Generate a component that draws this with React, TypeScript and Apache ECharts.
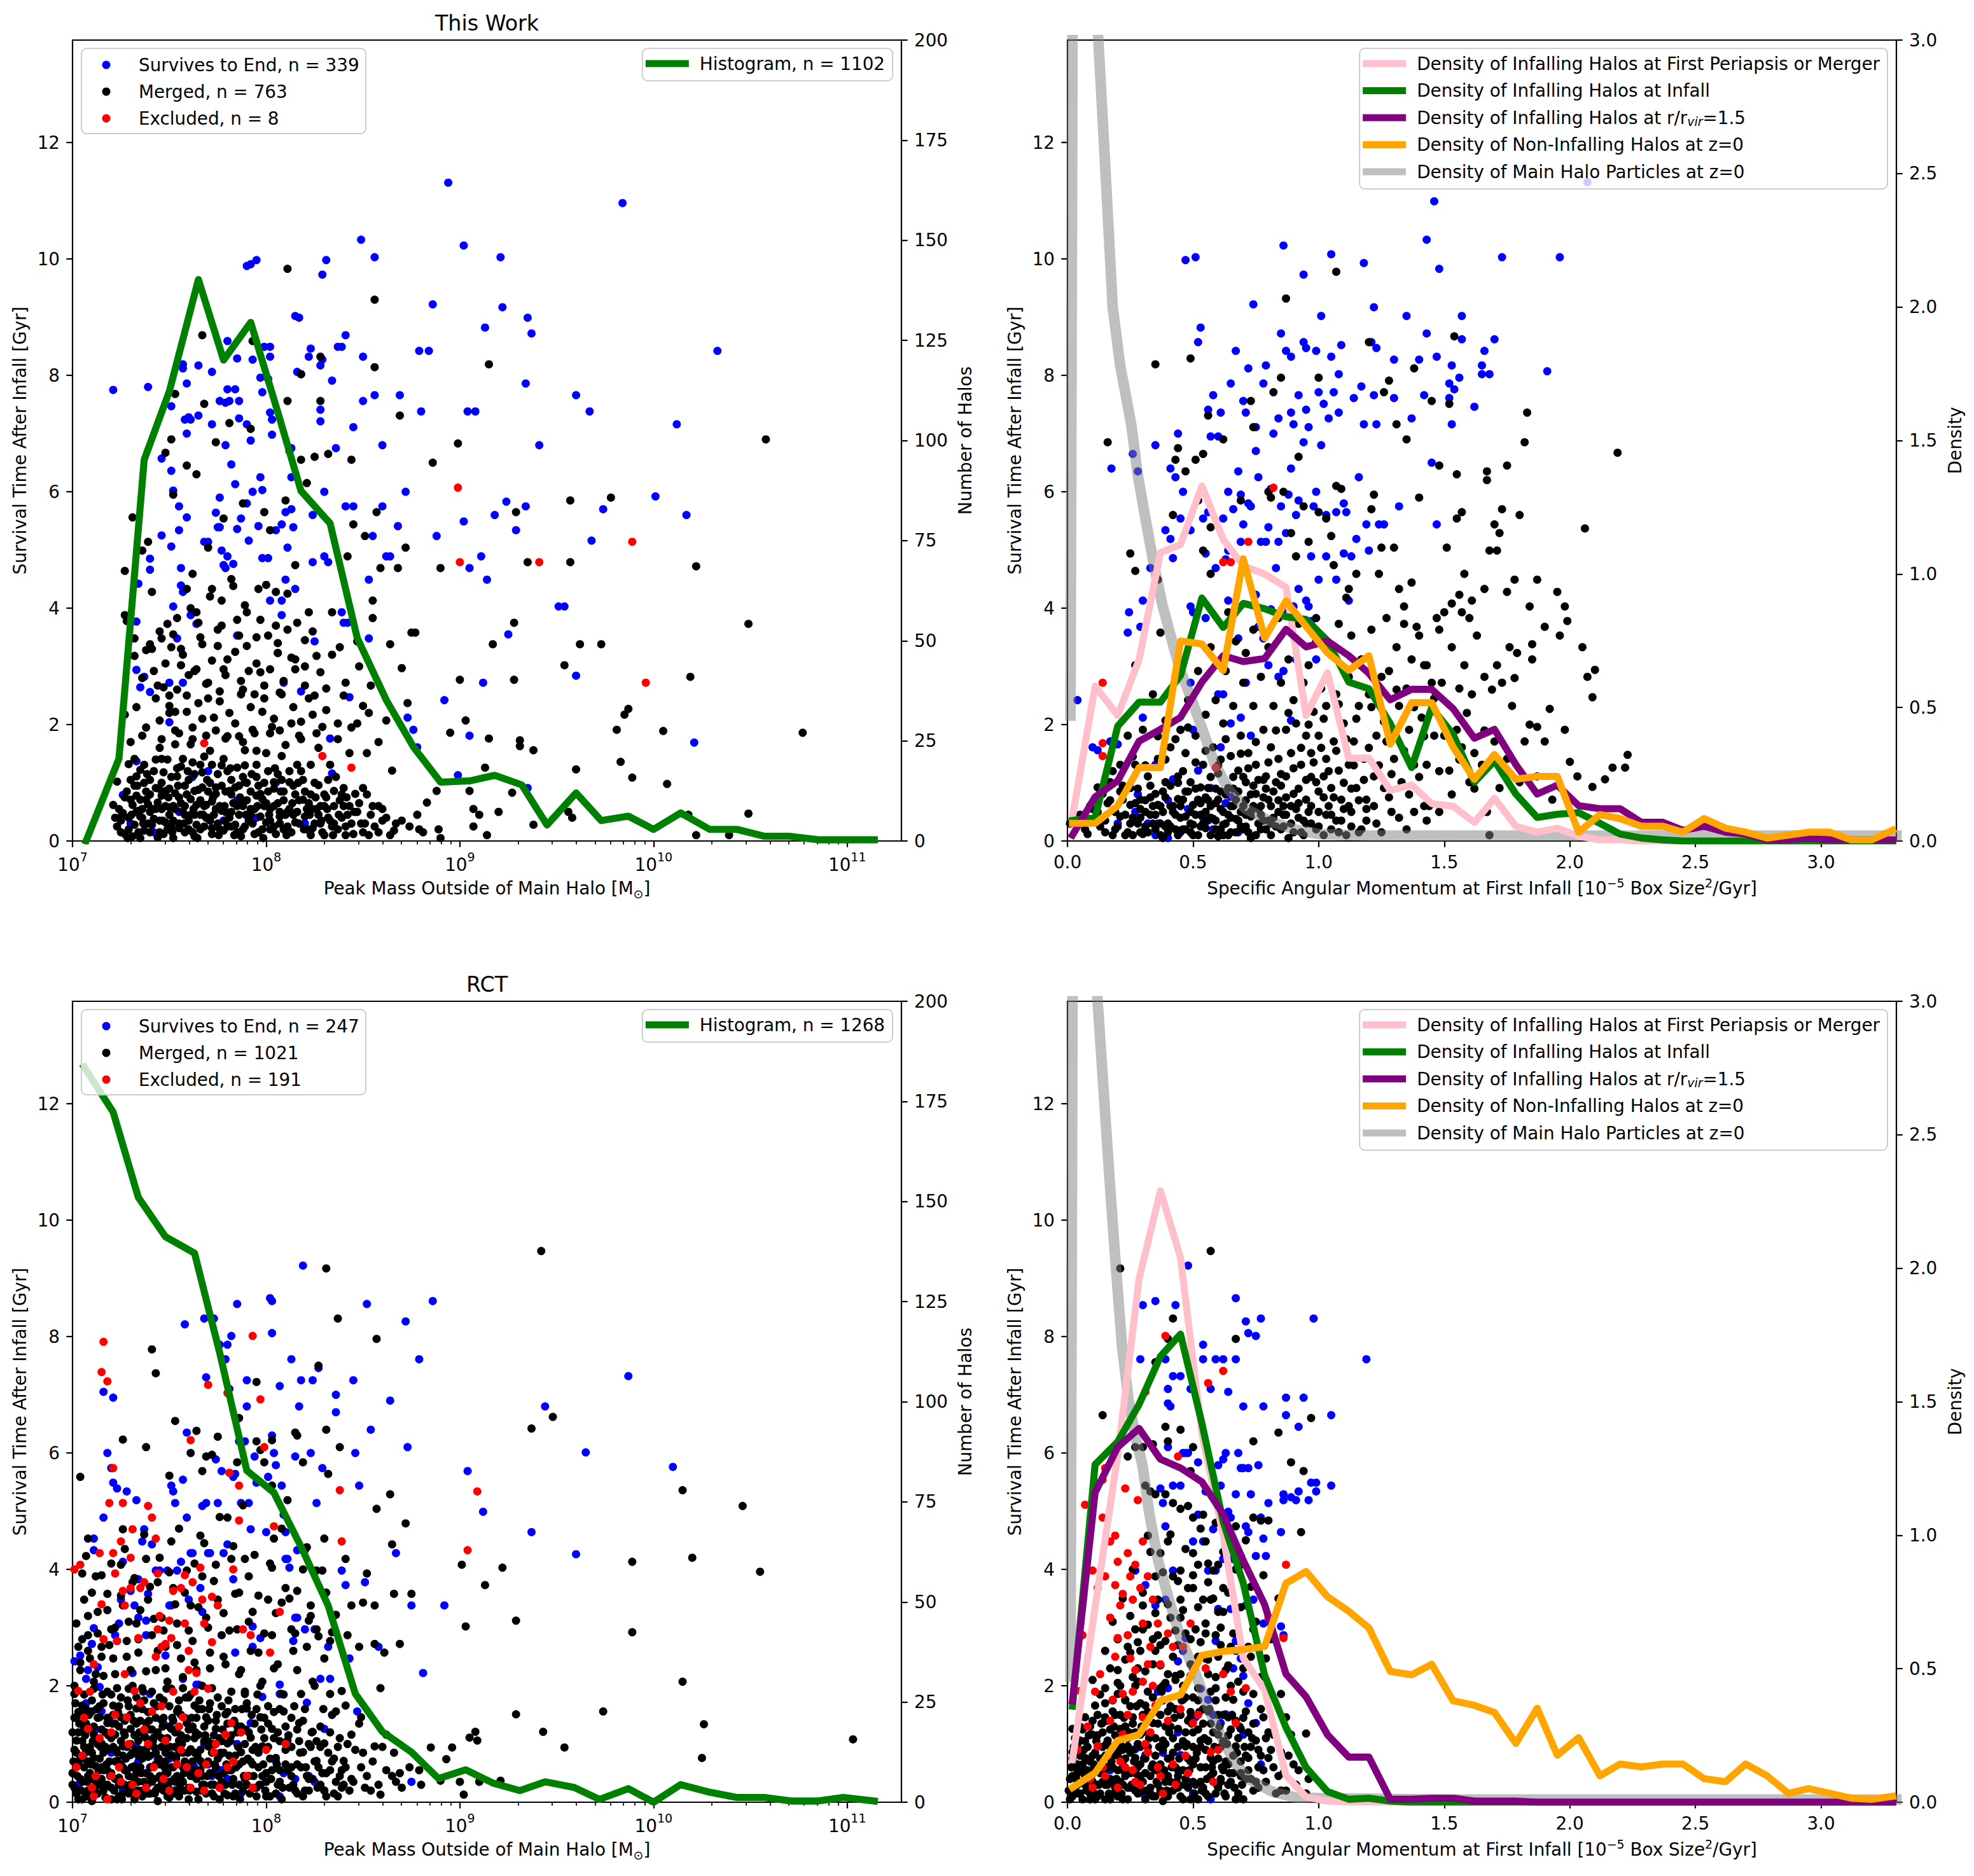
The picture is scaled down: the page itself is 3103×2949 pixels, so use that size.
import React, { useEffect, useRef } from "react";
import * as echarts from "echarts";

const FONT = "DejaVu Sans";
const FS = 27.8;
const W = 3103;
const H = 2949;
const DOT = 13;

// ---------- tick values ----------
const LOG_MAX = 11.28;
const LOG_TICKS = [7, 8, 9, 10, 11];
const LOG_MINOR = [7, 8, 9, 10].flatMap((n) => [2, 3, 4, 5, 6, 7, 8, 9].map((k) => n + Math.log10(k)));
const SURV_MAX = 13.76;
const SURV_TICKS = [0, 2, 4, 6, 8, 10, 12];
const COUNT_TICKS = [0, 25, 50, 75, 100, 125, 150, 175, 200];
const J_MAX = 3.3;
const J_TICKS = [0, 0.5, 1, 1.5, 2, 2.5, 3];
const DENS_TICKS = [0, 0.5, 1, 1.5, 2, 2.5, 3];

// ---------- histogram of peak mass (x = log10 M, y = number of halos) ----------
const TL_HIST = [[7.07,0],[7.24,20.6],[7.37,95.2],[7.5,112.3],[7.65,140.2],[7.78,120.1],[7.92,129.5],[8.05,108.7],[8.18,87.4],[8.33,79.3],[8.47,50.7],[8.62,35.2],[8.76,23.5],[8.9,14.7],[9.05,15],[9.18,16.4],[9.32,14],[9.45,4],[9.6,12],[9.73,5.1],[9.87,6.2],[10,2.9],[10.14,7],[10.29,2.9],[10.43,2.9],[10.57,1.2],[10.7,1.2],[10.85,0.3],[11,0.3],[11.14,0.3]];
const BL_HIST = [[7.06,183.6],[7.21,172.3],[7.34,151],[7.48,141.2],[7.63,137.1],[7.76,112.2],[7.9,82.8],[8.04,77.3],[8.18,63.8],[8.32,49.1],[8.46,27.1],[8.6,17.6],[8.75,12.5],[8.89,5.9],[9.03,8.1],[9.17,4.8],[9.31,2.9],[9.44,5.1],[9.59,3.7],[9.72,0.7],[9.87,3.4],[10,0],[10.14,4.4],[10.29,2.5],[10.43,1.2],[10.57,1.2],[10.71,0.3],[10.85,0.3],[10.98,1.2],[11.14,0.3]];

// ---------- density curves (x = specific angular momentum bins) ----------
const J_BINS = [0.02,0.11,0.2,0.285,0.37,0.45,0.535,0.62,0.7,0.785,0.87,0.95,1.035,1.12,1.2,1.285,1.37,1.45,1.535,1.62,1.7,1.785,1.87,1.95,2.035,2.12,2.2,2.285,2.37,2.45,2.535,2.62,2.7,2.785,2.87,2.95,3.035,3.12,3.2,3.285];
const TR_PINK = [0.09,0.58,0.47,0.68,1.08,1.11,1.33,1.13,1.03,1.0,0.95,0.47,0.63,0.31,0.31,0.19,0.21,0.14,0.13,0.07,0.16,0.055,0.033,0.048,0.018,0.004,0.004,0,0,0,0,0,0,0,0,0,0,0,0,0];
const TR_GREEN = [0.077,0.088,0.43,0.52,0.52,0.62,0.91,0.8,0.89,0.87,0.84,0.83,0.75,0.595,0.57,0.44,0.275,0.5,0.4,0.22,0.3,0.176,0.088,0.1,0.106,0.066,0.026,0.011,0.004,0,0,0,0,0,0,0,0,0,0,0];
const TR_PURPLE = [0.022,0.165,0.225,0.374,0.418,0.463,0.595,0.694,0.672,0.683,0.793,0.727,0.749,0.694,0.628,0.529,0.568,0.568,0.496,0.385,0.418,0.286,0.176,0.209,0.132,0.121,0.121,0.07,0.07,0.04,0.055,0.033,0.026,0.004,0.004,0.011,0.004,0.004,0.004,0.004];
const TR_ORANGE = [0.066,0.066,0.132,0.275,0.275,0.749,0.738,0.639,1.057,0.76,0.899,0.804,0.705,0.639,0.694,0.363,0.518,0.518,0.352,0.231,0.324,0.231,0.242,0.242,0.033,0.099,0.084,0.055,0.055,0.033,0.084,0.048,0.033,0.011,0.022,0.033,0.033,0.004,0.004,0.04];
const TR_GREY = [[0.012,0.47],[0.025,4.6],[0.06,4.2],[0.1,3.4],[0.12,3.05],[0.145,2.62],[0.18,2.0],[0.21,1.78],[0.254,1.56],[0.28,1.37],[0.31,1.21],[0.344,1.035],[0.379,0.88],[0.419,0.74],[0.449,0.64],[0.494,0.53],[0.544,0.4],[0.586,0.29],[0.643,0.19],[0.71,0.12],[0.8,0.077],[0.9,0.044],[1.0,0.026],[1.2,0.02],[1.6,0.02],[2.0,0.02],[2.5,0.02],[3.0,0.02],[3.3,0.02]];
const BR_PINK = [0.16,0.73,1.3,1.96,2.29,2.04,1.38,1.0,0.54,0.42,0.1,0.02,0.004,0,0,0,0,0,0,0,0,0,0,0,0,0,0,0,0,0,0,0,0,0,0,0,0,0,0,0];
const BR_GREEN = [0.36,1.265,1.35,1.49,1.67,1.753,1.42,1.05,0.82,0.475,0.28,0.13,0.04,0.011,0.015,0.004,0,0,0,0,0,0,0,0,0,0,0,0,0,0,0,0,0,0,0,0,0,0,0,0];
const BR_PURPLE = [0.38,1.16,1.33,1.40,1.285,1.252,1.2,1.078,0.905,0.74,0.48,0.395,0.253,0.169,0.169,0.011,0.011,0.015,0.015,0.004,0.004,0.004,0,0,0,0,0,0,0,0,0,0,0,0,0,0,0,0,0,0];
const BR_ORANGE = [0.055,0.11,0.231,0.253,0.38,0.402,0.55,0.565,0.572,0.583,0.82,0.864,0.77,0.715,0.653,0.49,0.477,0.517,0.38,0.363,0.336,0.22,0.352,0.176,0.242,0.099,0.143,0.132,0.143,0.143,0.088,0.077,0.143,0.099,0.033,0.051,0.033,0.015,0.011,0.022];
const BR_GREY = [[0.012,0.47],[0.025,4.6],[0.07,4.0],[0.12,3.0],[0.167,2.34],[0.19,2.04],[0.217,1.71],[0.244,1.5],[0.271,1.37],[0.299,1.26],[0.326,1.08],[0.362,0.9],[0.407,0.75],[0.452,0.61],[0.507,0.49],[0.561,0.35],[0.615,0.24],[0.669,0.145],[0.724,0.085],[0.814,0.04],[0.905,0.018],[1.0,0.015],[1.5,0.01],[2.0,0.01],[2.5,0.01],[3.3,0.01]];

// ---------- top-left scatter (x = log10 peak mass, y = survival time) ----------
const TL_BLUE = [[7.21,7.75],[7.39,7.8],[7.46,6.57],[7.51,7.47],[7.51,6.36],[7.46,5.25],[7.4,4.85],[7.4,4.66],[7.34,4.42],[7.35,2.64],[7.33,2.94],[7.33,3.77],[7.37,2.82],[7.4,2.56],[7.33,1.37],[7.26,0.79],[7.57,8.19],[7.6,7.28],[7.58,7.24],[7.59,7.0],[7.61,7.24],[7.57,8.12],[7.59,7.86],[7.55,5.75],[7.59,5.56],[7.52,6.02],[7.51,5.06],[7.55,5.34],[7.54,3.48],[7.52,4.03],[7.56,4.39],[7.56,4.69],[7.57,4.28],[7.5,2.72],[7.57,2.72],[7.5,2.04],[7.61,3.88],[7.64,3.73],[7.65,8.17],[7.65,7.31],[7.68,5.14],[7.7,5.14],[7.72,7.16],[7.72,8.06],[7.74,5.64],[7.75,5.39],[7.76,5.9],[7.76,5.39],[7.77,4.99],[7.78,4.74],[7.79,4.69],[7.8,4.89],[7.8,8.59],[7.8,7.76],[7.79,7.53],[7.81,7.56],[7.76,7.56],[7.84,7.76],[7.85,8.29],[7.86,7.56],[7.86,7.26],[7.79,6.8],[7.82,6.47],[7.84,6.13],[7.87,5.54],[7.85,5.36],[7.83,4.76],[7.85,3.53],[7.9,7.16],[7.9,9.88],[7.92,9.91],[7.95,9.98],[7.93,8.27],[7.92,6.88],[7.9,5.8],[7.93,6.0],[7.97,6.25],[7.98,6.03],[7.91,5.16],[7.96,5.41],[7.98,4.86],[8.01,4.86],[7.99,8.49],[8.02,8.49],[8.01,7.94],[7.97,7.96],[8.02,8.32],[7.98,7.71],[8.02,7.36],[8.03,6.98],[8.03,7.24],[8.02,4.13],[8.05,5.34],[8.08,5.44],[8.06,3.23],[8.1,4.49],[8.1,5.65],[8.12,6.7],[8.13,6.25],[8.08,4.13],[8.08,3.88],[8.09,2.72],[8.13,6.75],[8.15,4.33],[8.14,5.39],[8.13,5.7],[8.11,5.04],[8.16,8.06],[8.15,9.02],[8.17,8.99],[8.18,8.02],[8.18,2.57],[8.23,8.46],[8.22,8.32],[8.24,5.6],[8.24,4.79],[8.25,3.43],[8.28,7.21],[8.28,8.17],[8.28,7.41],[8.29,8.27],[8.29,9.73],[8.31,9.98],[8.3,6.0],[8.3,4.89],[8.32,4.79],[8.33,1.76],[8.34,7.91],[8.34,1.16],[8.36,6.75],[8.37,8.49],[8.39,8.49],[8.41,8.69],[8.39,3.93],[8.4,3.75],[8.42,3.75],[8.41,5.75],[8.45,5.75],[8.45,7.11],[8.43,2.47],[8.5,8.32],[8.5,7.56],[8.53,4.49],[8.53,3.48],[8.55,5.24],[8.56,7.66],[8.56,10.03],[8.49,10.33],[8.6,6.8],[8.6,5.75],[8.62,4.89],[8.64,4.89],[8.69,7.66],[8.68,5.41],[8.72,6.0],[8.73,2.12],[8.76,1.91],[8.78,1.61],[8.79,8.42],[8.8,7.38],[8.84,8.42],[8.86,9.22],[8.88,5.24],[8.92,2.42],[8.94,11.31],[8.99,1.13],[9.02,10.23],[9.02,5.49],[9.04,7.38],[9.05,4.69],[9.05,1.81],[9.08,7.38],[9.11,4.89],[9.13,8.82],[9.12,2.72],[9.14,4.49],[9.18,5.6],[9.21,10.03],[9.22,9.17],[9.24,5.83],[9.25,3.55],[9.29,5.34],[9.34,7.86],[9.34,5.75],[9.35,8.99],[9.37,8.72],[9.35,0.91],[9.41,6.8],[9.51,4.03],[9.54,4.03],[9.6,7.66],[9.6,2.84],[9.67,7.38],[9.68,5.16],[9.74,5.7],[9.84,10.96],[10.01,5.92],[10.12,7.16],[10.17,5.6],[10.21,1.69],[10.33,8.42],[7.3,0.3],[7.42,0.15],[7.55,0.5],[7.7,1.2],[7.85,0.7],[7.95,0.4],[8.05,1.0],[8.2,0.3],[7.62,1.1],[7.78,0.35]];
const TL_BLACK = [[7.22,0.4],[7.23,0.25],[7.25,0.35],[7.27,4.64],[7.27,3.88],[7.28,3.78],[7.27,2.17],[7.29,0.2],[7.3,0.71],[7.31,5.56],[7.32,3.48],[7.32,3.18],[7.32,1.41],[7.33,1.11],[7.33,0.5],[7.34,0.15],[7.35,0.71],[7.36,4.99],[7.36,1.81],[7.36,0.4],[7.37,1.31],[7.38,3.28],[7.38,0.71],[7.39,5.14],[7.4,3.38],[7.4,0.5],[7.4,0.15],[7.41,4.28],[7.42,2.92],[7.43,0.91],[7.44,2.67],[7.45,0.35],[7.45,2.07],[7.46,3.48],[7.46,1.41],[7.46,0.55],[7.47,2.64],[7.48,6.67],[7.48,0.86],[7.49,0.2],[7.49,3.73],[7.5,2.32],[7.5,0.45],[7.51,6.9],[7.51,3.33],[7.52,5.95],[7.52,0.6],[7.53,7.68],[7.53,1.66],[7.53,2.22],[7.54,3.83],[7.54,1.11],[7.55,0.3],[7.56,3.02],[7.57,1.41],[7.58,0.6],[7.59,6.45],[7.59,4.33],[7.59,2.22],[7.6,0.2],[7.61,1.66],[7.62,4.59],[7.63,2.92],[7.63,0.86],[7.63,0.45],[7.64,6.3],[7.64,3.93],[7.65,2.37],[7.66,1.31],[7.66,0.2],[7.67,8.69],[7.67,3.38],[7.68,7.51],[7.68,0.6],[7.69,1.81],[7.7,5.04],[7.7,2.72],[7.71,0.35],[7.72,4.33],[7.72,1.31],[7.73,2.12],[7.74,0.81],[7.74,6.85],[7.75,3.63],[7.76,0.2],[7.76,2.57],[7.77,4.13],[7.78,1.41],[7.78,5.54],[7.79,0.5],[7.79,1.76],[7.8,3.12],[7.81,0.86],[7.81,7.18],[7.82,0.25],[7.83,4.38],[7.84,2.02],[7.85,1.26],[7.85,0.6],[7.86,3.53],[7.87,2.52],[7.88,5.8],[7.88,0.2],[7.89,1.56],[7.89,1.01],[7.9,3.93],[7.91,2.92],[7.92,7.08],[7.92,0.45],[7.93,1.91],[7.93,8.59],[7.94,2.52],[7.95,1.31],[7.96,4.33],[7.97,0.81],[7.98,0.2],[7.98,2.22],[7.99,5.65],[7.99,2.67],[8.0,1.51],[8.01,3.53],[8.02,0.35],[8.02,5.34],[8.03,1.96],[8.04,1.01],[8.05,4.28],[8.06,3.23],[8.07,0.5],[8.08,1.46],[8.08,2.52],[8.09,0.2],[8.1,5.85],[8.11,7.56],[8.11,9.83],[8.11,3.63],[8.12,1.01],[8.13,2.02],[8.14,0.45],[8.15,3.12],[8.15,4.74],[8.16,1.31],[8.17,1.81],[8.18,8.02],[8.18,6.55],[8.19,0.71],[8.2,2.67],[8.21,6.15],[8.21,0.2],[8.22,3.93],[8.23,1.31],[8.24,2.17],[8.24,0.55],[8.25,6.6],[8.26,3.18],[8.27,0.96],[8.28,7.56],[8.28,0.3],[8.28,8.32],[8.29,1.96],[8.3,0.6],[8.31,2.62],[8.32,6.65],[8.33,1.31],[8.34,0.25],[8.34,3.93],[8.35,0.86],[8.37,2.02],[8.38,3.33],[8.39,0.4],[8.4,0.91],[8.41,2.72],[8.41,0.1],[8.42,4.89],[8.43,1.51],[8.44,6.55],[8.45,5.44],[8.46,0.81],[8.47,2.02],[8.47,3.43],[8.49,0.3],[8.5,2.32],[8.5,0.91],[8.51,5.24],[8.52,1.51],[8.53,0.1],[8.54,2.67],[8.55,3.83],[8.55,4.13],[8.56,8.14],[8.56,9.3],[8.57,5.65],[8.58,0.6],[8.59,4.69],[8.6,0.35],[8.62,2.07],[8.64,3.38],[8.64,0.1],[8.65,1.21],[8.67,0.3],[8.68,4.69],[8.69,7.31],[8.7,2.97],[8.72,5.04],[8.73,2.37],[8.74,0.25],[8.75,3.58],[8.77,3.58],[8.78,0.45],[8.79,0.2],[8.81,0.15],[8.83,0.66],[8.86,6.5],[8.88,0.86],[8.89,0.2],[8.9,4.69],[8.9,0.05],[8.95,1.86],[8.99,6.83],[9.0,2.77],[9.03,2.07],[9.05,0.86],[9.07,0.25],[9.07,0.55],[9.1,0.45],[9.13,1.26],[9.14,0.1],[9.15,8.19],[9.15,1.76],[9.17,3.38],[9.2,0.5],[9.27,0.83],[9.28,3.75],[9.28,2.77],[9.29,5.65],[9.31,1.73],[9.31,1.63],[9.35,4.79],[9.38,1.56],[9.38,0.28],[9.54,3.02],[9.56,0.5],[9.57,5.85],[9.57,4.79],[9.58,0.4],[9.6,1.23],[9.62,3.38],[9.73,3.38],[9.78,5.9],[9.81,1.91],[9.83,1.36],[9.85,2.17],[9.87,2.27],[9.89,1.09],[10.22,4.72],[10.05,1.89],[10.07,0.98],[10.18,0.45],[10.19,2.82],[10.22,0.1],[10.39,0.1],[10.49,0.47],[10.49,3.73],[10.58,6.9],[10.77,1.86]];
const TL_BLACK_DENSE = [[7.24,0.55],[7.27,0.12],[7.31,0.62],[7.35,0.42],[7.38,0.85],[7.41,0.28],[7.44,0.66],[7.47,0.12],[7.5,0.9],[7.52,0.35],[7.55,0.75],[7.58,0.45],[7.6,1.05],[7.62,0.15],[7.64,0.62],[7.67,0.92],[7.7,0.4],[7.72,0.68],[7.75,1.15],[7.77,0.52],[7.8,0.25],[7.82,0.8],[7.86,0.45],[7.88,1.1],[7.9,0.7],[7.93,0.3],[7.96,0.95],[7.99,0.6],[8.01,0.85],[8.04,0.25],[8.06,0.65],[8.1,0.45],[8.12,1.2],[8.16,0.5],[8.2,0.85],[8.23,0.1],[8.26,0.55],[8.3,0.8],[8.33,0.35],[8.36,1.1],[8.4,0.6],[8.44,0.3],[8.47,0.5],[8.52,0.8],[8.56,0.25],[8.6,0.55],[7.45,1.6],[7.53,1.9],[7.62,1.75],[7.71,1.55],[7.8,1.8],[7.88,1.7],[7.95,1.55],[8.02,1.85],[8.1,1.65],[8.18,1.75],[8.27,1.6],[7.5,2.5],[7.6,2.85],[7.7,2.45],[7.78,2.95],[7.88,2.6],[7.97,2.9],[8.07,2.55],[8.15,2.95],[8.25,2.5],[7.45,3.6],[7.56,3.3],[7.65,3.75],[7.75,3.35],[7.85,3.8],[7.95,3.5],[8.05,3.7],[8.2,3.45],[7.21,0.62],[7.23,1.02],[7.26,0.48],[7.28,0.85],[7.29,1.32],[7.31,0.08],[7.32,0.95],[7.34,0.52],[7.35,1.22],[7.37,0.18],[7.39,0.63],[7.4,1.05],[7.42,0.38],[7.43,1.4],[7.44,0.06],[7.46,0.78],[7.47,1.18],[7.48,0.32],[7.5,0.58],[7.51,1.1],[7.52,0.05],[7.53,0.82],[7.55,0.22],[7.56,1.28],[7.57,0.5],[7.58,0.95],[7.6,0.35],[7.61,0.72],[7.62,1.35],[7.63,0.08],[7.65,0.88],[7.66,0.45],[7.67,1.18],[7.68,0.25],[7.69,0.62],[7.71,1.0],[7.72,0.12],[7.73,0.45],[7.74,0.92],[7.76,0.6],[7.77,1.3],[7.78,0.18],[7.79,0.85],[7.81,0.4],[7.82,1.05],[7.83,0.65],[7.84,0.28],[7.86,0.95],[7.87,0.08],[7.88,0.6],[7.89,1.3],[7.91,0.35],[7.92,0.85],[7.94,0.55],[7.95,1.1],[7.96,0.15],[7.98,0.72],[8.0,0.32],[8.01,1.2],[8.02,0.55],[8.04,0.9],[8.05,0.12],[8.07,0.42],[8.08,1.05],[8.09,0.7],[8.11,0.25],[8.12,0.55],[8.14,0.95],[8.15,0.32],[8.17,0.7],[8.18,1.2],[8.2,0.42],[8.22,0.65],[8.24,0.22],[8.25,1.0],[8.27,0.45],[8.29,0.15],[8.31,0.75],[8.32,0.4],[8.35,0.6],[8.37,0.2],[8.39,0.8],[8.42,0.45],[8.45,0.12],[8.48,0.65],[8.51,0.3],[8.54,0.45],[8.58,0.15],[8.62,0.4],[8.66,0.18],[8.7,0.35],[7.3,1.7],[7.33,2.3],[7.36,2.8],[7.38,1.95],[7.41,3.3],[7.43,2.45],[7.46,1.75],[7.48,3.05],[7.5,2.2],[7.52,3.55],[7.54,2.6],[7.55,1.85],[7.57,3.2],[7.59,2.5],[7.61,4.0],[7.62,1.95],[7.64,2.95],[7.66,3.5],[7.67,2.1],[7.69,2.7],[7.71,4.2],[7.72,3.1],[7.74,1.9],[7.76,2.4],[7.77,3.7],[7.79,2.85],[7.81,2.2],[7.82,4.5],[7.84,3.25],[7.86,1.8],[7.87,2.75],[7.89,4.05],[7.9,3.35],[7.92,2.3],[7.94,1.85],[7.95,3.05],[7.97,3.8],[7.99,2.45],[8.0,4.4],[8.02,2.95],[8.04,2.1],[8.06,3.4],[8.07,1.9],[8.09,2.75],[8.11,4.25],[8.13,3.15],[8.14,2.3],[8.16,3.75],[8.18,2.05],[8.2,3.0],[8.22,2.45],[8.24,3.6],[8.26,1.85],[8.28,2.9],[8.31,2.25],[8.34,3.2],[8.37,1.75],[8.4,2.5],[8.44,1.95],[8.48,3.0],[8.53,2.2],[8.58,1.7],[7.25,0.15],[7.27,0.75],[7.29,0.4],[7.3,1.05],[7.32,0.28],[7.33,0.78],[7.35,0.05],[7.36,0.55],[7.37,1.0],[7.39,0.3],[7.4,0.8],[7.42,1.2],[7.43,0.55],[7.45,0.15],[7.46,1.0],[7.48,0.6],[7.49,1.4],[7.51,0.25],[7.53,0.55],[7.54,1.25],[7.56,0.65],[7.58,0.15],[7.59,0.8],[7.61,0.45],[7.63,1.15],[7.64,0.28],[7.66,0.7],[7.68,1.45],[7.69,0.4],[7.7,0.85],[7.72,0.22],[7.74,0.55],[7.75,0.3],[7.77,0.95],[7.79,0.35],[7.8,1.2],[7.82,0.5],[7.84,0.92],[7.85,0.15],[7.87,0.65],[7.89,0.25],[7.9,1.0],[7.92,0.55],[7.94,0.12],[7.95,0.78],[7.97,0.42],[7.99,1.0],[8.0,0.65],[8.02,0.2],[8.04,0.6],[8.06,1.15],[8.07,0.3],[8.09,0.85],[8.11,0.5],[8.13,0.15],[8.15,0.8],[8.17,0.3],[8.19,1.05],[8.21,0.55],[8.23,0.8],[8.25,0.3],[8.28,0.6],[8.3,0.1],[8.32,1.05],[8.35,0.3],[8.38,0.7],[8.41,0.25],[8.43,0.6],[7.255,0.45],[7.285,0.05],[7.305,0.45],[7.335,0.95],[7.365,0.3],[7.385,1.15],[7.415,0.55],[7.445,0.9],[7.465,0.35],[7.495,0.75],[7.515,0.15],[7.545,0.95],[7.575,0.3],[7.595,1.2],[7.625,0.55],[7.645,0.05],[7.675,0.45],[7.695,1.05],[7.725,0.75],[7.755,0.1],[7.785,0.6],[7.815,1.25],[7.835,0.1],[7.865,0.75],[7.895,0.45],[7.925,1.15],[7.955,0.6],[7.985,0.05],[8.015,0.45],[8.045,1.25],[8.075,0.85],[8.105,0.1],[8.135,0.65],[8.165,1.0],[8.195,0.2],[8.225,0.45],[8.255,0.75],[8.285,0.35],[8.315,0.55],[8.345,0.1],[8.375,0.45],[8.415,0.75],[8.455,0.5],[8.5,0.15],[8.55,0.6]];
const TL_RED = [[7.68,1.68],[8.29,1.46],[8.44,1.26],[8.99,6.07],[9.0,4.79],[9.41,4.79],[9.89,5.14],[9.96,2.72]];

// ---------- top-right scatter (x = specific angular momentum, y = survival time) ----------
const TR_BLUE = [[0.175,6.4],[0.26,6.65],[0.28,6.35],[0.24,3.58],[0.245,3.93],[0.29,3.68],[0.3,4.13],[0.33,4.69],[0.35,6.8],[0.39,5.34],[0.41,5.19],[0.42,4.86],[0.41,6.4],[0.43,6.25],[0.44,7.0],[0.45,5.54],[0.46,6.0],[0.47,9.98],[0.49,5.34],[0.49,4.03],[0.5,3.93],[0.51,10.03],[0.52,8.57],[0.53,8.82],[0.54,5.54],[0.55,4.94],[0.56,5.65],[0.56,7.41],[0.57,6.95],[0.59,4.69],[0.58,7.66],[0.6,6.95],[0.61,7.36],[0.62,5.54],[0.63,4.84],[0.64,4.99],[0.64,6.0],[0.65,7.86],[0.66,5.7],[0.67,8.42],[0.68,6.35],[0.69,5.14],[0.69,5.95],[0.7,5.44],[0.7,7.56],[0.71,7.36],[0.72,8.12],[0.72,5.8],[0.73,5.75],[0.74,9.22],[0.75,6.7],[0.75,7.11],[0.76,6.25],[0.77,5.14],[0.78,7.86],[0.79,8.17],[0.79,5.14],[0.8,5.39],[0.81,6.05],[0.82,7.0],[0.83,4.69],[0.84,7.26],[0.84,5.14],[0.85,5.75],[0.85,8.72],[0.86,10.23],[0.87,8.42],[0.87,5.29],[0.88,5.95],[0.89,8.32],[0.89,7.36],[0.89,6.4],[0.9,7.16],[0.91,5.6],[0.92,5.85],[0.92,7.66],[0.94,6.85],[0.94,9.73],[0.94,8.57],[0.95,7.41],[0.95,8.47],[0.96,7.11],[0.97,4.89],[0.98,5.75],[0.99,8.42],[0.99,6.0],[1.0,7.71],[1.0,4.49],[1.01,6.8],[1.01,9.02],[1.02,7.51],[1.03,4.89],[1.03,5.6],[1.04,7.26],[1.05,8.32],[1.05,10.08],[1.06,7.71],[1.07,4.49],[1.07,5.65],[1.08,8.02],[1.08,7.36],[1.09,8.52],[1.1,5.8],[1.1,4.94],[1.11,5.65],[1.12,4.13],[1.13,4.89],[1.14,7.61],[1.15,5.19],[1.16,6.25],[1.17,7.81],[1.18,9.93],[1.18,7.16],[1.19,5.44],[1.2,4.99],[1.21,8.57],[1.22,7.66],[1.22,9.17],[1.23,7.16],[1.23,8.47],[1.24,5.44],[1.26,5.44],[1.3,7.61],[1.3,8.27],[1.32,5.75],[1.35,9.02],[1.37,7.26],[1.4,8.27],[1.42,7.66],[1.43,10.33],[1.43,8.72],[1.45,6.5],[1.46,10.99],[1.47,8.32],[1.47,5.44],[1.48,9.83],[1.52,7.61],[1.52,7.86],[1.53,7.16],[1.53,8.17],[1.54,7.76],[1.56,7.96],[1.57,9.02],[1.57,8.62],[1.62,7.46],[1.65,8.02],[1.65,8.17],[1.66,8.42],[1.68,8.02],[1.7,8.62],[1.73,10.03],[1.91,8.07],[1.96,10.03],[2.07,11.32],[0.04,2.42],[0.1,1.61],[0.12,1.56],[0.17,1.71],[0.2,1.66],[0.3,2.12],[0.35,1.31],[0.42,1.06],[0.45,1.91],[0.49,2.72],[0.5,1.91],[0.52,1.21],[0.54,0.4],[0.56,0.35],[0.57,0.91],[0.6,2.52],[0.61,1.61],[0.62,2.52],[0.65,0.76],[0.69,2.12],[0.71,2.72],[0.73,1.81],[0.76,3.68],[0.78,3.48],[0.8,3.02],[0.81,3.98],[0.84,2.82],[0.86,2.92],[0.87,3.93],[0.9,4.03],[0.91,3.12],[0.92,4.33],[0.95,4.13],[0.96,4.03],[0.97,3.78],[0.99,3.12],[0.27,0.5],[0.35,0.1],[0.4,0.05],[0.32,0.3],[0.89,2.07],[0.65,2.02],[0.55,3.83],[0.64,4.13],[0.68,3.48],[0.75,4.23],[0.2,0.3],[0.28,0.8],[0.36,0.3],[0.4,0.7],[0.45,0.15],[0.48,0.55],[0.58,0.2],[0.63,0.65],[0.68,0.15]];
const TR_BLACK = [[0.16,6.85],[0.35,8.19],[0.25,4.94],[0.27,4.64],[0.36,4.49],[0.37,3.58],[0.42,5.6],[0.43,6.55],[0.44,6.75],[0.47,6.35],[0.49,8.29],[0.51,6.55],[0.52,5.85],[0.54,4.99],[0.54,6.65],[0.56,7.31],[0.57,5.39],[0.57,4.59],[0.62,6.9],[0.64,3.93],[0.69,5.85],[0.71,3.23],[0.73,7.56],[0.74,7.11],[0.8,6.0],[0.81,5.9],[0.82,7.71],[0.85,7.96],[0.86,6.0],[0.87,9.32],[0.89,5.29],[0.91,4.89],[0.92,6.6],[0.94,5.75],[0.96,5.14],[0.99,3.83],[1.0,7.96],[1.0,5.65],[1.03,5.54],[1.05,5.24],[1.06,4.74],[1.07,9.78],[1.07,6.1],[1.09,6.05],[1.11,4.18],[1.12,4.33],[1.15,4.59],[1.2,8.57],[1.21,5.7],[1.22,5.95],[1.24,4.59],[1.25,5.04],[1.26,7.71],[1.28,7.91],[1.3,5.04],[1.31,7.16],[1.32,4.33],[1.34,4.03],[1.35,6.9],[1.37,4.44],[1.38,8.12],[1.39,3.68],[1.4,5.9],[1.43,3.02],[1.45,7.56],[1.48,6.45],[1.48,3.63],[1.5,3.93],[1.51,5.04],[1.52,7.51],[1.53,4.08],[1.54,8.67],[1.55,6.3],[1.55,5.54],[1.56,4.23],[1.57,3.93],[1.57,5.65],[1.58,4.59],[1.6,3.83],[1.61,4.13],[1.66,4.33],[1.67,6.2],[1.67,6.35],[1.68,4.99],[1.7,5.44],[1.71,4.99],[1.72,5.29],[1.73,5.7],[1.75,4.28],[1.75,6.45],[1.76,3.33],[1.78,4.49],[1.79,3.23],[1.8,5.6],[1.82,6.85],[1.83,7.36],[1.84,4.03],[1.85,3.38],[1.87,1.96],[1.87,4.49],[1.9,3.68],[1.92,2.27],[1.95,4.28],[1.96,3.53],[1.98,1.91],[1.98,4.03],[1.99,3.78],[2.0,1.36],[2.03,1.11],[2.05,3.33],[2.06,5.37],[2.07,2.82],[2.09,0.93],[2.1,2.94],[2.09,2.47],[2.14,1.06],[2.17,1.26],[2.19,6.67],[2.22,1.26],[2.23,1.48],[0.01,0.3],[0.05,0.45],[0.07,0.2],[0.09,0.6],[0.11,0.35],[0.14,0.81],[0.15,0.15],[0.17,1.01],[0.19,0.5],[0.2,0.25],[0.21,1.31],[0.22,0.71],[0.23,0.1],[0.24,1.81],[0.25,0.91],[0.26,0.4],[0.27,3.02],[0.27,1.31],[0.29,0.71],[0.29,0.15],[0.3,1.91],[0.31,0.5],[0.32,1.11],[0.34,0.3],[0.34,2.52],[0.35,0.81],[0.36,1.41],[0.37,0.1],[0.38,0.5],[0.39,2.07],[0.39,1.01],[0.4,0.3],[0.41,1.61],[0.42,0.6],[0.43,2.82],[0.44,0.1],[0.44,1.11],[0.45,0.4],[0.45,1.91],[0.46,0.71],[0.47,0.2],[0.47,1.51],[0.48,2.42],[0.49,0.5],[0.49,1.01],[0.5,0.1],[0.51,1.81],[0.52,0.71],[0.52,2.92],[0.54,0.3],[0.54,1.31],[0.55,2.17],[0.55,0.5],[0.56,0.91],[0.57,0.1],[0.57,3.33],[0.58,1.61],[0.59,0.35],[0.59,2.42],[0.6,0.71],[0.6,1.16],[0.61,0.2],[0.62,2.02],[0.62,0.5],[0.63,2.92],[0.64,0.91],[0.64,0.1],[0.65,1.46],[0.65,0.4],[0.66,2.32],[0.67,0.71],[0.67,3.43],[0.68,1.21],[0.69,0.25],[0.69,1.81],[0.7,0.6],[0.7,2.72],[0.71,1.01],[0.72,0.15],[0.72,1.51],[0.73,0.5],[0.74,2.32],[0.74,3.63],[0.75,0.81],[0.75,1.31],[0.76,0.3],[0.77,2.82],[0.77,0.6],[0.78,1.91],[0.79,1.11],[0.79,0.2],[0.8,3.33],[0.8,0.71],[0.81,1.61],[0.82,0.4],[0.82,2.32],[0.83,1.01],[0.84,3.83],[0.84,1.41],[0.85,0.2],[0.85,2.72],[0.86,0.6],[0.87,1.91],[0.87,1.11],[0.88,3.12],[0.89,0.3],[0.89,1.51],[0.9,2.42],[0.9,0.81],[0.91,2.02],[0.92,0.4],[0.92,3.73],[0.93,1.31],[0.94,2.72],[0.94,0.1],[0.95,1.81],[0.95,0.71],[0.96,3.02],[0.97,1.51],[0.97,0.3],[0.98,2.22],[0.99,1.01],[0.99,3.43],[1.0,0.5],[1.0,1.81],[1.01,2.62],[1.02,1.11],[1.02,0.1],[1.03,1.41],[1.03,2.32],[1.04,0.6],[1.05,3.33],[1.05,0.91],[1.06,1.71],[1.07,0.35],[1.07,2.52],[1.08,1.21],[1.08,3.73],[1.09,0.71],[1.1,2.02],[1.11,0.1],[1.12,2.82],[1.12,1.31],[1.13,0.5],[1.13,3.53],[1.14,1.71],[1.15,0.91],[1.16,2.32],[1.17,0.2],[1.17,3.12],[1.18,1.41],[1.19,0.71],[1.2,2.52],[1.21,3.63],[1.22,1.11],[1.23,1.81],[1.23,0.3],[1.25,2.82],[1.26,0.91],[1.27,3.83],[1.27,1.71],[1.28,2.92],[1.29,0.5],[1.3,1.41],[1.31,3.33],[1.32,2.32],[1.33,1.01],[1.34,3.73],[1.35,0.2],[1.35,2.62],[1.36,1.91],[1.37,3.12],[1.38,1.31],[1.38,0.5],[1.4,3.53],[1.41,2.12],[1.42,0.6],[1.42,3.02],[1.43,0.35],[1.43,1.31],[1.45,2.72],[1.46,1.81],[1.47,3.83],[1.48,0.5],[1.49,2.72],[1.5,1.81],[1.52,1.21],[1.53,3.33],[1.55,1.91],[1.56,2.62],[1.57,1.61],[1.58,3.02],[1.6,1.01],[1.61,2.52],[1.62,1.51],[1.63,3.53],[1.65,1.31],[1.66,2.82],[1.67,0.5],[1.68,0.1],[1.7,1.71],[1.71,3.02],[1.72,0.91],[1.73,2.72],[1.75,1.41],[1.77,2.32],[1.8,1.01],[1.82,1.71],[1.85,3.12],[1.87,1.11],[1.9,1.71],[1.93,0.71]];
const TR_BLACK_DENSE = [[0.08,0.12],[0.1,0.55],[0.12,0.92],[0.13,0.25],[0.16,0.65],[0.18,0.1],[0.18,1.2],[0.21,0.42],[0.22,0.95],[0.24,0.15],[0.25,0.62],[0.26,1.45],[0.28,0.3],[0.28,0.9],[0.3,0.12],[0.31,0.7],[0.31,1.3],[0.33,0.45],[0.33,0.95],[0.35,0.2],[0.36,0.62],[0.36,1.8],[0.38,0.05],[0.38,0.85],[0.39,1.4],[0.41,0.25],[0.41,0.95],[0.42,0.5],[0.43,1.75],[0.44,0.72],[0.45,0.18],[0.46,1.2],[0.47,0.42],[0.48,0.85],[0.48,1.95],[0.5,0.28],[0.5,0.62],[0.51,1.35],[0.52,0.1],[0.53,0.92],[0.53,0.45],[0.55,1.55],[0.55,0.22],[0.56,0.7],[0.57,1.1],[0.58,0.38],[0.59,0.9],[0.6,0.08],[0.61,0.55],[0.61,1.4],[0.62,0.28],[0.63,0.8],[0.63,1.75],[0.65,0.15],[0.66,0.6],[0.66,1.1],[0.67,0.38],[0.68,0.85],[0.69,1.5],[0.7,0.2],[0.71,0.7],[0.72,1.25],[0.73,0.05],[0.73,0.42],[0.74,0.95],[0.75,1.7],[0.76,0.55],[0.77,0.2],[0.78,1.05],[0.78,0.75],[0.8,0.35],[0.8,1.35],[0.81,0.1],[0.82,0.85],[0.83,1.9],[0.84,0.5],[0.85,1.15],[0.86,0.25],[0.87,0.75],[0.88,2.2],[0.88,0.05],[0.9,1.25],[0.91,0.55],[0.92,0.9],[0.93,1.6],[0.94,0.35],[0.95,1.05],[0.96,2.0],[0.97,0.6],[0.98,1.35],[0.99,0.2],[1.0,0.85],[1.01,1.6],[1.02,2.1],[1.03,0.45],[1.04,1.2],[1.05,0.2],[1.06,0.75],[1.07,1.55],[1.08,2.35],[1.09,0.35],[1.1,1.0],[1.11,1.75],[1.12,0.6],[1.13,0.25],[1.14,1.3],[1.15,2.1],[1.16,0.7],[1.18,1.05],[1.19,0.35],[1.2,1.6],[1.21,2.3],[1.22,0.6],[1.24,1.3],[1.25,0.15],[1.26,2.05],[1.28,0.75],[1.29,1.15],[1.31,2.6],[1.32,0.4],[1.34,1.55],[1.36,0.8],[1.38,2.3],[1.4,1.1],[1.42,1.8],[1.44,0.6],[1.46,2.45],[1.48,1.2],[1.5,2.0],[1.53,0.8],[1.56,1.4],[1.59,2.2],[1.62,0.9],[1.66,1.9],[1.69,2.6],[1.74,1.2],[1.78,2.8],[1.84,2.0],[0.26,0.1],[0.29,0.55],[0.32,0.15],[0.34,0.6],[0.37,0.3],[0.39,0.75],[0.4,0.15],[0.43,0.45],[0.44,1.0],[0.46,0.2],[0.49,0.3],[0.51,0.9],[0.53,0.25],[0.55,0.75],[0.57,0.4],[0.59,0.65],[0.6,1.3],[0.62,0.1],[0.64,0.45],[0.66,0.9],[0.68,0.35],[0.7,1.1],[0.71,0.25],[0.74,0.6],[0.76,1.05],[0.78,0.35],[0.81,0.6],[0.83,0.25],[0.85,0.95],[0.87,0.45],[0.9,0.15],[0.92,0.65],[0.95,0.3],[0.97,1.1],[1.0,0.25],[1.02,0.75],[1.05,0.45],[1.08,0.15],[1.1,0.55],[1.13,0.9],[1.16,0.15],[1.19,0.55],[0.12,0.5],[0.15,0.35],[0.17,0.7],[0.19,0.2],[0.21,0.85],[0.23,0.45],[0.25,0.3],[0.27,0.65],[0.29,0.4],[0.31,0.25],[0.33,0.75],[0.35,0.45],[0.37,0.6],[0.39,0.25],[0.41,0.6],[0.43,0.2],[0.45,0.6],[0.47,0.85],[0.49,0.15],[0.51,0.45],[0.53,0.65],[0.55,0.35],[0.57,0.6],[0.59,0.2],[0.61,0.85],[0.63,0.3],[0.65,0.6],[0.67,0.15],[0.69,0.5],[0.71,0.45],[0.73,0.8],[0.75,0.1],[0.77,0.45],[0.79,0.9],[0.81,0.3],[0.84,0.7],[0.86,0.45],[0.89,0.6],[0.93,0.15],[0.96,0.5]];
const TR_RED = [[0.14,2.72],[0.14,1.68],[0.14,1.46],[0.62,4.79],[0.65,4.79],[0.72,5.14],[0.82,6.07],[0.59,1.26]];

// ---------- bottom-left scatter ----------
const BL_BLUE = [[7.01,2.42],[7.04,2.52],[7.07,2.12],[7.08,2.27],[7.1,2.72],[7.11,2.99],[7.11,4.53],[7.11,4.33],[7.13,2.32],[7.14,1.98],[7.15,1.56],[7.16,4.89],[7.16,7.05],[7.18,6.0],[7.2,5.74],[7.21,6.95],[7.21,5.49],[7.22,2.87],[7.23,5.39],[7.23,2.77],[7.24,3.07],[7.25,3.48],[7.26,4.13],[7.28,5.34],[7.3,3.63],[7.31,2.22],[7.32,3.38],[7.33,5.19],[7.34,3.17],[7.34,3.83],[7.36,4.48],[7.37,4.69],[7.38,2.87],[7.38,3.12],[7.39,3.58],[7.4,1.86],[7.41,4.43],[7.43,3.98],[7.45,3.98],[7.48,2.52],[7.49,3.98],[7.5,3.38],[7.51,5.44],[7.51,3.38],[7.52,5.34],[7.53,5.14],[7.54,3.98],[7.56,4.13],[7.57,2.12],[7.58,8.21],[7.59,6.35],[7.57,5.54],[7.59,4.89],[7.6,3.48],[7.61,4.28],[7.62,4.28],[7.64,2.02],[7.65,2.02],[7.66,3.68],[7.67,5.09],[7.67,3.27],[7.68,8.31],[7.69,7.3],[7.69,5.14],[7.7,4.28],[7.71,4.28],[7.72,8.31],[7.73,8.31],[7.74,5.89],[7.75,5.14],[7.76,7.86],[7.77,5.69],[7.78,4.28],[7.79,7.61],[7.8,7.86],[7.8,4.43],[7.81,7.1],[7.82,8.01],[7.83,3.83],[7.83,5.59],[7.84,5.64],[7.84,2.57],[7.85,8.56],[7.86,6.2],[7.87,5.14],[7.89,6.2],[7.9,6.8],[7.9,7.25],[7.91,5.14],[7.92,4.69],[7.93,3.02],[7.93,2.67],[7.94,5.94],[7.95,5.49],[7.97,2.82],[7.97,1.46],[7.98,1.81],[8.0,4.64],[8.01,5.59],[8.02,8.66],[8.03,8.61],[8.03,8.06],[8.03,6.3],[8.04,6.0],[8.05,5.79],[8.07,2.02],[8.07,7.15],[8.07,1.86],[8.08,5.44],[8.09,4.94],[8.1,4.64],[8.1,4.18],[8.11,4.18],[8.12,4.03],[8.13,7.61],[8.14,2.77],[8.15,5.94],[8.15,3.17],[8.16,4.33],[8.16,3.17],[8.17,6.8],[8.18,7.25],[8.19,9.22],[8.2,4.33],[8.2,2.97],[8.21,1.71],[8.23,6.0],[8.24,7.25],[8.25,2.97],[8.26,5.14],[8.27,7.46],[8.28,2.12],[8.29,5.74],[8.3,1.26],[8.32,2.67],[8.33,2.12],[8.36,6.7],[8.36,7.0],[8.39,3.98],[8.41,3.73],[8.43,2.47],[8.45,7.25],[8.46,6.0],[8.47,1.56],[8.48,5.44],[8.51,3.78],[8.52,8.56],[8.54,6.4],[8.58,2.67],[8.64,6.9],[8.67,4.28],[8.72,8.26],[8.73,6.1],[8.75,0.35],[8.75,3.38],[8.79,7.61],[8.81,2.22],[8.86,8.61],[8.92,3.38],[9.04,5.69],[9.12,4.99],[9.37,4.64],[9.44,6.8],[9.65,6.01],[9.87,7.32],[10.1,5.76],[9.6,4.26],[8.09,0.5],[8.07,0.1],[7.85,1.0],[7.77,0.55],[7.61,0.65],[7.44,0.75],[7.2,0.85],[7.25,0.65],[7.34,0.7],[7.72,0.45],[7.75,0.55],[7.54,1.26],[7.92,1.36],[7.7,0.65],[8.22,0.45],[8.25,0.35],[7.03,0.3],[7.07,1.7],[7.14,0.55],[7.19,1.45],[7.26,0.2],[7.33,0.95],[7.4,0.6],[7.47,1.35],[7.55,0.15],[7.63,0.6],[7.68,1.0],[7.8,0.4],[7.87,0.15],[7.97,0.3],[8.05,0.7],[8.15,0.4],[8.3,0.2],[7.12,1.25],[7.5,0.75]];
const BL_BLACK = [[7.41,7.78],[7.43,7.37],[7.38,6.1],[7.26,6.23],[7.26,4.69],[7.04,5.59],[7.08,4.53],[7.07,4.23],[7.05,3.93],[7.53,6.55],[7.5,5.61],[7.61,6.0],[7.64,6.38],[7.69,5.94],[7.67,5.69],[7.72,5.97],[7.75,6.28],[7.86,6.6],[7.85,5.84],[7.89,4.18],[7.95,7.22],[7.95,6.2],[7.97,6.05],[7.99,5.84],[8.03,6.22],[8.03,5.44],[8.03,4.03],[8.04,4.53],[8.08,3.43],[8.11,5.19],[8.15,6.35],[8.16,6.3],[8.16,3.63],[8.19,5.84],[8.21,4.38],[8.22,3.12],[8.23,3.38],[8.26,3.98],[8.27,7.5],[8.29,3.98],[8.3,4.53],[8.31,9.17],[8.31,6.4],[8.32,5.64],[8.33,2.77],[8.34,2.92],[8.36,3.22],[8.37,8.31],[8.38,6.1],[8.39,1.91],[8.41,4.18],[8.42,2.87],[8.44,3.38],[8.48,2.67],[8.5,3.43],[8.52,3.93],[8.56,3.38],[8.56,2.72],[8.57,7.96],[8.57,5.04],[8.59,1.96],[8.61,2.57],[8.64,5.29],[8.65,4.43],[8.66,3.58],[8.72,4.79],[8.69,2.72],[8.75,3.58],[8.85,0.94],[8.9,0.37],[8.93,0.74],[8.96,0.94],[9.0,0.35],[9.01,4.08],[9.03,3.02],[9.05,1.11],[9.08,1.21],[9.09,1.06],[9.1,0.35],[9.13,3.73],[9.21,0.37],[9.22,4.03],[9.29,3.12],[9.29,1.51],[9.37,6.42],[9.42,9.47],[9.43,1.21],[9.48,6.62],[9.54,0.94],[9.74,1.56],[9.89,4.13],[9.89,2.92],[10.15,5.36],[10.15,2.07],[10.2,4.2],[10.25,0.76],[10.26,1.34],[10.46,5.09],[10.55,3.96],[11.03,1.08],[9.02,0.13],[8.51,0.25],[8.59,0.13],[8.67,0.35],[8.65,0.45],[8.69,0.5],[8.79,0.55],[8.39,0.25],[8.44,0.4],[8.49,0.6],[7.01,1.86],[7.02,1.46],[7.02,1.06],[7.03,0.65],[7.01,0.25],[7.05,1.66],[7.06,1.26],[7.07,0.86],[7.08,0.45],[7.08,0.1],[7.1,1.56],[7.11,1.16],[7.11,0.76],[7.12,0.35],[7.14,1.46],[7.15,1.01],[7.15,0.6],[7.16,0.2],[7.18,1.36],[7.19,0.91],[7.2,0.5],[7.21,1.66],[7.22,1.16],[7.23,0.71],[7.24,0.3],[7.25,1.46],[7.26,0.96],[7.27,0.55],[7.29,0.15],[7.3,1.26],[7.3,0.81],[7.32,0.4],[7.33,1.61],[7.34,1.06],[7.35,0.6],[7.36,0.2],[7.38,1.36],[7.38,0.91],[7.4,0.45],[7.41,1.56],[7.42,1.11],[7.43,0.65],[7.44,0.25],[7.46,1.41],[7.47,0.96],[7.48,0.5],[7.49,0.1],[7.51,1.26],[7.51,0.81],[7.53,0.35],[7.54,1.56],[7.55,1.06],[7.57,0.6],[7.58,0.2],[7.59,1.36],[7.61,0.91],[7.62,0.45],[7.63,1.66],[7.65,1.16],[7.66,0.71],[7.67,0.3],[7.69,1.46],[7.7,0.96],[7.72,0.5],[7.73,0.1],[7.74,1.26],[7.76,0.81],[7.77,0.35],[7.79,1.51],[7.8,1.01],[7.82,0.55],[7.84,0.15],[7.85,1.31],[7.87,0.86],[7.89,0.4],[7.9,1.61],[7.92,1.11],[7.93,0.65],[7.95,0.25],[7.97,1.46],[7.98,0.96],[8.0,0.5],[8.02,0.1],[8.03,1.26],[8.05,0.76],[8.07,0.35],[8.09,1.56],[8.11,1.06],[8.13,0.6],[8.15,0.2],[8.17,1.36],[8.19,0.86],[8.21,0.45],[8.24,1.21],[8.26,0.71],[8.28,0.3],[8.3,1.01],[8.33,0.55],[8.35,0.15],[8.38,0.45],[8.4,0.71],[7.02,3.07],[7.03,2.67],[7.04,2.27],[7.06,3.48],[7.08,2.87],[7.09,2.47],[7.11,2.07],[7.12,3.88],[7.13,3.27],[7.15,2.67],[7.16,2.17],[7.18,3.58],[7.2,2.97],[7.21,2.47],[7.23,1.96],[7.25,4.08],[7.26,3.38],[7.28,2.77],[7.3,2.27],[7.31,3.78],[7.33,3.07],[7.34,2.57],[7.36,1.96],[7.38,4.18],[7.39,3.48],[7.41,2.87],[7.43,2.27],[7.44,3.78],[7.46,3.17],[7.48,2.67],[7.49,2.07],[7.51,4.48],[7.52,3.68],[7.54,3.07],[7.56,2.47],[7.57,1.96],[7.59,3.98],[7.61,3.38],[7.62,2.77],[7.64,2.27],[7.66,4.58],[7.67,3.88],[7.69,3.17],[7.71,2.57],[7.72,1.96],[7.74,4.08],[7.75,3.48],[7.77,2.87],[7.79,2.37],[7.8,4.89],[7.82,4.18],[7.84,3.58],[7.85,2.97],[7.87,2.27],[7.89,1.86],[7.91,3.88],[7.93,3.27],[7.96,2.57],[7.98,2.07],[8.01,3.48],[8.03,2.87],[8.06,2.37],[8.08,1.86],[8.1,3.68],[8.13,2.97],[8.16,2.27],[8.18,1.86],[8.21,2.67],[8.24,2.07],[8.26,2.97],[8.3,2.47],[8.33,1.86],[8.36,1.56],[8.41,1.66],[8.44,1.16],[8.49,1.46],[8.56,0.96],[8.62,1.16]];
const BL_BLACK_DENSE = [[7.0,0.5],[7.0,1.2],[7.01,2.0],[7.02,0.15],[7.02,0.85],[7.03,1.55],[7.04,0.4],[7.04,2.4],[7.05,1.05],[7.05,0.05],[7.06,0.6],[7.06,1.85],[7.07,1.35],[7.08,0.2],[7.08,2.6],[7.09,0.95],[7.09,0.5],[7.1,1.75],[7.1,0.02],[7.11,1.3],[7.12,0.62],[7.12,2.2],[7.13,0.15],[7.13,1.0],[7.14,1.65],[7.15,0.4],[7.15,2.5],[7.16,0.85],[7.17,1.2],[7.17,0.08],[7.18,1.9],[7.18,0.55],[7.19,2.7],[7.2,1.1],[7.2,0.25],[7.21,1.5],[7.22,0.7],[7.22,2.2],[7.23,0.05],[7.24,1.3],[7.24,0.42],[7.25,1.8],[7.26,0.8],[7.26,0.15],[7.27,1.15],[7.28,2.5],[7.28,0.55],[7.29,1.65],[7.3,0.3],[7.3,1.0],[7.31,2.0],[7.32,0.62],[7.32,0.05],[7.33,1.35],[7.34,0.35],[7.34,2.8],[7.35,0.9],[7.36,1.6],[7.36,0.1],[7.37,1.15],[7.38,0.5],[7.38,2.25],[7.39,0.78],[7.4,1.25],[7.4,0.15],[7.41,1.9],[7.42,0.4],[7.42,0.95],[7.43,1.45],[7.44,0.02],[7.44,2.6],[7.45,0.65],[7.46,1.1],[7.46,0.3],[7.47,1.75],[7.48,0.85],[7.48,2.3],[7.49,0.5],[7.5,1.3],[7.5,0.08],[7.51,1.95],[7.52,0.6],[7.53,1.2],[7.53,0.2],[7.54,2.7],[7.55,0.85],[7.56,1.5],[7.56,0.38],[7.57,2.15],[7.58,0.7],[7.59,1.1],[7.6,0.05],[7.6,1.8],[7.61,0.45],[7.62,1.3],[7.63,2.4],[7.63,0.85],[7.64,0.18],[7.65,1.6],[7.66,0.55],[7.67,2.0],[7.68,1.05],[7.68,0.3],[7.7,1.4],[7.7,0.7],[7.71,2.3],[7.72,0.15],[7.73,1.15],[7.74,0.6],[7.75,1.8],[7.76,0.25],[7.77,1.05],[7.78,2.5],[7.78,0.5],[7.8,1.35],[7.8,0.12],[7.81,0.8],[7.82,1.9],[7.83,0.4],[7.85,1.2],[7.86,0.65],[7.86,2.2],[7.88,0.2],[7.89,1.0],[7.9,1.7],[7.91,0.45],[7.92,2.6],[7.93,0.9],[7.94,1.35],[7.95,0.1],[7.96,0.6],[7.97,2.0],[7.99,1.1],[8.0,0.35],[8.01,1.65],[8.02,0.75],[8.04,2.3],[8.05,0.15],[8.06,1.2],[8.07,0.55],[8.09,1.85],[8.1,0.9],[8.12,0.25],[8.13,1.45],[8.14,2.6],[8.16,0.65],[8.17,1.05],[8.19,0.1],[8.2,1.6],[8.22,0.4],[8.23,0.95],[8.25,2.0],[8.27,0.6],[8.28,1.3],[8.3,0.2],[8.32,0.85],[8.34,1.5],[8.36,0.35],[8.38,1.1],[8.41,0.6],[8.43,0.2],[8.46,0.9],[8.48,1.35],[8.52,0.45],[8.55,0.7],[8.58,0.3],[8.62,0.55],[8.66,0.85],[8.7,0.25],[8.74,0.6],[8.8,0.3],[7.05,2.8],[7.08,3.2],[7.1,3.6],[7.13,2.9],[7.15,3.9],[7.18,3.3],[7.2,4.1],[7.22,3.0],[7.25,3.55],[7.27,4.35],[7.29,3.1],[7.32,3.85],[7.35,3.3],[7.37,4.6],[7.4,3.7],[7.42,3.15],[7.45,4.2],[7.47,2.95],[7.5,3.95],[7.53,3.4],[7.55,4.7],[7.58,3.6],[7.6,2.95],[7.63,4.1],[7.65,3.35],[7.68,4.45],[7.7,3.0],[7.73,3.8],[7.76,4.9],[7.78,3.25],[7.81,2.95],[7.83,4.4],[7.86,3.6],[7.88,5.1],[7.91,3.1],[7.94,4.25],[7.96,3.55],[7.99,2.9],[8.02,4.1],[8.05,3.25],[8.08,4.7],[8.12,3.5],[8.15,2.9],[8.19,4.0],[8.23,3.2],[8.27,2.85],[8.31,3.6],[7.0,0.3],[7.01,0.9],[7.01,1.45],[7.03,0.05],[7.03,1.2],[7.04,0.75],[7.05,1.5],[7.05,0.35],[7.06,0.95],[7.07,0.1],[7.07,1.6],[7.08,0.7],[7.09,1.25],[7.1,0.4],[7.1,0.85],[7.11,1.95],[7.12,1.05],[7.12,0.15],[7.13,1.45],[7.14,0.75],[7.14,0.3],[7.15,1.25],[7.16,0.55],[7.16,1.7],[7.17,0.95],[7.18,0.3],[7.18,1.45],[7.19,0.7],[7.2,0.05],[7.2,1.85],[7.21,0.95],[7.22,0.4],[7.22,1.35],[7.23,0.85],[7.24,1.65],[7.24,0.1],[7.25,1.05],[7.26,0.6],[7.27,1.4],[7.27,0.3],[7.28,0.95],[7.29,1.95],[7.29,0.45],[7.3,1.5],[7.31,0.85],[7.31,0.2],[7.32,1.15],[7.33,0.5],[7.33,1.8],[7.34,0.8],[7.35,0.15],[7.35,1.4],[7.36,0.75],[7.37,1.75],[7.37,0.35],[7.38,1.1],[7.39,0.15],[7.39,1.55],[7.4,0.8],[7.41,0.35],[7.41,1.25],[7.42,1.7],[7.43,0.2],[7.43,0.85],[7.44,1.2],[7.45,0.45],[7.45,1.8],[7.46,0.95],[7.47,0.2],[7.47,1.45],[7.48,0.7],[7.49,1.1],[7.5,0.35],[7.5,1.65],[7.51,0.6],[7.52,1.4],[7.52,0.15],[7.53,0.95],[7.54,0.45],[7.55,1.75],[7.55,0.1],[7.56,1.15],[7.57,0.35],[7.57,0.85],[7.58,1.45],[7.59,0.55],[7.6,1.25],[7.6,0.25],[7.61,1.85],[7.62,0.7],[7.63,1.1],[7.64,0.4],[7.64,1.45],[7.65,0.05],[7.66,0.9],[7.67,1.6],[7.67,0.45],[7.68,1.3],[7.69,0.15],[7.7,1.05],[7.71,0.5],[7.71,1.7],[7.72,0.85],[7.73,0.3],[7.74,1.4],[7.75,0.75],[7.76,1.1],[7.76,0.05],[7.77,1.65],[7.78,0.85],[7.79,0.3],[7.8,1.55],[7.81,0.55],[7.82,1.15],[7.83,0.1],[7.84,0.8],[7.84,1.6],[7.86,0.3],[7.87,1.3],[7.88,0.7],[7.89,1.9],[7.9,0.3],[7.91,1.2],[7.92,0.7],[7.94,0.25],[7.95,1.6],[7.96,0.85],[7.98,0.45],[7.99,1.45],[8.0,0.1],[8.01,0.95],[8.03,0.55],[8.04,1.55],[8.06,0.3],[8.07,1.05],[8.08,0.05],[8.1,1.3],[8.11,0.55],[8.13,0.95],[8.14,0.3],[8.16,1.25],[8.18,0.6],[8.2,0.2],[8.22,1.0],[8.24,0.4],[8.26,1.05],[8.29,0.5],[8.31,0.1],[8.34,0.7],[8.37,0.95],[8.4,0.3]];
const BL_BLACK_DENSE2 = [[7.005,0.7],[7.015,1.7],[7.025,0.45],[7.035,1.35],[7.045,0.2],[7.055,0.75],[7.065,1.15],[7.075,0.35],[7.085,1.5],[7.095,0.65],[7.105,1.05],[7.115,0.25],[7.125,1.6],[7.135,0.55],[7.145,0.95],[7.155,1.85],[7.165,0.3],[7.175,0.65],[7.185,1.15],[7.195,0.45],[7.205,1.35],[7.215,0.2],[7.225,0.9],[7.235,1.55],[7.245,0.65],[7.255,0.05],[7.265,1.2],[7.275,0.75],[7.285,1.75],[7.295,0.25],[7.305,0.6],[7.315,1.4],[7.325,0.9],[7.335,0.2],[7.345,1.2],[7.355,0.5],[7.365,1.9],[7.375,0.85],[7.385,0.3],[7.395,1.4],[7.405,0.6],[7.415,1.05],[7.425,0.15],[7.435,1.65],[7.445,0.75],[7.455,0.4],[7.465,1.3],[7.475,0.6],[7.485,1.95],[7.495,0.25],[7.505,0.95],[7.515,1.45],[7.525,0.4],[7.535,0.75],[7.545,1.6],[7.555,0.25],[7.565,1.0],[7.575,0.5],[7.585,1.8],[7.595,0.85],[7.605,0.2],[7.615,1.45],[7.625,0.55],[7.635,1.2],[7.645,0.8],[7.655,1.75],[7.665,0.2],[7.675,0.65],[7.685,1.15],[7.695,0.45],[7.705,1.6],[7.715,0.3],[7.725,1.0],[7.735,0.65],[7.745,1.5],[7.755,0.45],[7.765,0.85],[7.775,1.25],[7.785,0.15],[7.795,0.65],[7.805,1.75],[7.815,1.05],[7.825,0.3],[7.835,1.4],[7.845,0.6],[7.855,0.95],[7.865,0.05],[7.875,1.6],[7.885,0.45],[7.895,1.25],[7.905,0.75],[7.915,0.15],[7.925,1.5],[7.935,0.45],[7.945,0.95],[7.955,1.85],[7.965,0.3],[7.975,1.25],[7.985,0.65],[7.995,0.2],[8.01,1.35],[8.025,0.4],[8.04,1.1],[8.055,0.65],[8.07,1.6],[8.085,0.25],[8.1,0.65],[8.115,1.15],[8.13,0.45],[8.145,1.65],[8.16,0.15],[8.175,0.85],[8.19,1.4],[8.205,0.6],[8.22,0.2],[8.235,1.2],[8.25,0.7],[8.265,0.25],[8.28,0.95],[8.295,1.6],[8.31,0.5],[8.33,1.2],[8.35,0.75],[8.37,0.1],[8.39,0.55],[8.42,1.0],[8.45,0.35],[8.5,0.85],[8.54,0.2],[8.6,0.95]];
const BL_RED = [[7.01,4.0],[7.04,4.08],[7.03,1.91],[7.08,1.26],[7.11,2.37],[7.14,4.28],[7.15,7.39],[7.16,7.91],[7.18,7.23],[7.19,5.14],[7.21,5.74],[7.21,4.28],[7.22,3.93],[7.23,2.77],[7.25,4.48],[7.26,3.63],[7.26,5.14],[7.27,3.38],[7.3,3.68],[7.31,4.69],[7.32,1.91],[7.34,2.82],[7.35,3.68],[7.37,3.78],[7.39,5.09],[7.41,4.89],[7.43,4.53],[7.44,3.93],[7.44,2.97],[7.46,2.67],[7.48,2.72],[7.5,3.12],[7.51,2.82],[7.52,3.63],[7.56,3.68],[7.58,3.07],[7.6,2.27],[7.61,6.22],[7.62,3.78],[7.64,2.22],[7.66,4.03],[7.67,3.48],[7.68,3.07],[7.7,7.17],[7.72,3.53],[7.75,3.38],[7.8,7.03],[7.81,5.66],[7.83,4.0],[7.86,4.84],[7.88,2.97],[7.86,5.44],[7.92,2.87],[7.93,8.01],[7.97,6.92],[7.99,6.1],[8.02,2.57],[8.04,4.74],[8.07,3.27],[8.1,1.0],[8.38,5.36],[8.39,4.48],[9.04,4.33],[9.09,5.34],[7.82,1.36],[7.41,1.56],[7.54,0.65],[7.61,0.25],[7.69,0.65],[7.38,0.25],[7.2,0.45],[7.1,0.25],[7.28,1.46],[7.48,1.06],[7.73,0.86],[7.79,1.16],[7.57,1.46],[7.93,0.25],[7.05,0.8],[7.09,1.9],[7.12,0.45],[7.16,2.8],[7.2,1.2],[7.24,0.6],[7.27,2.2],[7.31,0.3],[7.35,1.7],[7.39,1.0],[7.43,2.5],[7.47,0.4],[7.52,1.9],[7.56,0.9],[7.6,2.6],[7.65,0.5],[7.7,1.95],[7.76,0.25],[7.83,0.7],[7.9,0.45],[8.0,0.9],[7.15,3.4],[7.3,4.2],[7.45,3.2],[7.58,3.9],[7.72,2.75],[7.02,0.6],[7.06,1.45],[7.11,0.1],[7.14,1.1],[7.18,0.05],[7.22,1.5],[7.25,0.35],[7.29,1.0],[7.33,0.15],[7.37,1.25],[7.42,0.6],[7.46,1.65],[7.5,0.2],[7.55,1.3],[7.59,0.6],[7.63,1.9],[7.68,0.2],[7.74,1.0],[7.8,0.6],[7.87,1.2]];

// ---------- bottom-right scatter ----------
const BR_BLUE = [[0.29,7.61],[0.3,8.54],[0.35,8.61],[0.39,7.61],[0.4,7.1],[0.4,6.85],[0.41,6.8],[0.43,8.54],[0.42,7.32],[0.45,7.32],[0.48,9.22],[0.49,7.1],[0.54,7.86],[0.54,7.61],[0.57,7.1],[0.59,7.61],[0.62,7.61],[0.64,7.05],[0.67,7.61],[0.67,8.66],[0.71,8.26],[0.72,8.06],[0.75,8.01],[0.77,8.31],[0.37,5.39],[0.38,5.14],[0.39,4.74],[0.4,6.1],[0.42,5.44],[0.45,5.44],[0.46,6.0],[0.47,6.0],[0.48,6.0],[0.5,4.48],[0.52,5.84],[0.52,4.94],[0.54,4.48],[0.55,5.34],[0.56,3.98],[0.57,5.69],[0.58,4.69],[0.59,3.98],[0.6,5.79],[0.6,3.32],[0.61,5.44],[0.62,5.89],[0.62,4.18],[0.63,6.0],[0.64,4.99],[0.65,4.89],[0.66,4.18],[0.67,5.29],[0.68,6.0],[0.69,5.74],[0.69,4.23],[0.7,5.74],[0.7,6.8],[0.71,4.74],[0.72,4.64],[0.72,5.74],[0.73,5.29],[0.74,3.48],[0.75,4.23],[0.76,5.79],[0.77,4.89],[0.78,6.8],[0.78,4.53],[0.79,4.23],[0.8,5.14],[0.85,4.64],[0.86,5.19],[0.86,5.29],[0.87,6.95],[0.87,6.65],[0.89,5.24],[0.91,5.19],[0.92,5.34],[0.94,6.95],[0.96,5.19],[0.97,5.49],[0.98,8.31],[0.99,5.34],[0.99,5.49],[1.05,5.44],[1.05,6.65],[1.19,7.61],[0.92,6.45],[0.85,3.02],[0.86,2.87],[0.78,3.07],[0.7,2.17],[0.63,1.51],[0.56,1.76],[0.56,1.06],[0.51,1.46],[0.45,0.81],[0.44,2.42],[0.4,1.96],[0.34,0.6],[0.31,0.81],[0.27,0.91],[0.22,0.65],[0.17,0.55],[0.47,2.82],[0.49,2.17],[0.59,2.77],[0.65,3.32],[0.71,3.38],[0.67,2.77],[0.69,2.47],[0.42,3.98],[0.39,3.48],[0.35,3.38],[0.31,3.73],[0.27,3.98],[0.5,0.15],[0.61,1.36],[0.7,1.16],[0.75,1.36],[0.77,0.65],[0.57,0.05],[0.22,0.3],[0.3,0.15],[0.38,0.85],[0.44,1.2],[0.48,0.35],[0.53,1.95],[0.58,1.5],[0.62,0.6],[0.66,2.3],[0.72,1.7],[0.46,2.6],[0.36,1.9]];
const BR_BLACK = [[0.14,6.65],[0.21,9.17],[0.39,6.45],[0.4,7.96],[0.42,8.31],[0.35,7.56],[0.57,9.47],[0.67,7.96],[0.74,6.2],[0.84,6.35],[0.89,5.84],[0.93,4.64],[0.94,5.69],[0.97,6.6],[0.77,4.84],[0.8,4.84],[0.74,4.89],[0.67,4.74],[0.69,4.08],[0.54,4.94],[0.49,5.69],[0.5,6.1],[0.45,6.4],[0.4,6.2],[0.34,6.15],[0.31,5.44],[0.3,6.1],[0.27,6.1],[0.24,5.94],[0.33,5.34],[0.35,5.29],[0.39,5.29],[0.42,5.14],[0.45,5.04],[0.48,5.09],[0.5,4.89],[0.55,4.48],[0.6,4.08],[0.62,3.68],[0.72,2.67],[0.74,2.97],[0.79,2.47],[0.85,1.86],[0.89,1.16],[0.95,1.18],[0.92,0.55],[0.87,0.2],[0.96,0.4],[0.7,0.05],[0.01,0.05],[0.02,0.45],[0.02,0.86],[0.03,0.25],[0.04,0.65],[0.05,1.06],[0.06,0.35],[0.07,1.46],[0.07,0.76],[0.09,0.15],[0.09,1.16],[0.1,0.55],[0.11,1.66],[0.12,0.96],[0.12,0.3],[0.14,1.36],[0.14,0.65],[0.15,1.96],[0.16,1.06],[0.17,0.4],[0.18,1.56],[0.19,0.86],[0.19,0.15],[0.2,2.27],[0.21,1.26],[0.22,0.55],[0.23,1.76],[0.24,0.96],[0.24,0.25],[0.25,2.57],[0.26,1.46],[0.27,0.76],[0.28,2.07],[0.29,1.16],[0.29,0.45],[0.3,2.97],[0.31,1.66],[0.32,0.86],[0.33,0.15],[0.34,2.37],[0.34,1.36],[0.35,0.55],[0.36,3.48],[0.37,1.96],[0.38,1.06],[0.39,0.35],[0.39,2.77],[0.4,1.56],[0.41,0.76],[0.42,3.88],[0.43,2.17],[0.44,1.26],[0.44,0.45],[0.45,3.17],[0.46,1.76],[0.47,0.96],[0.48,3.68],[0.49,2.37],[0.49,1.46],[0.5,0.65],[0.51,2.97],[0.52,1.96],[0.53,1.06],[0.54,0.25],[0.54,3.48],[0.55,2.47],[0.56,1.56],[0.57,0.76],[0.58,3.98],[0.59,2.87],[0.59,1.96],[0.6,1.16],[0.61,0.35],[0.62,3.27],[0.63,2.27],[0.64,1.46],[0.64,0.65],[0.65,2.67],[0.66,1.76],[0.67,0.96],[0.68,2.07],[0.69,1.26],[0.69,0.45],[0.71,1.56],[0.72,0.76],[0.74,1.86],[0.75,1.06],[0.76,0.25],[0.78,1.46],[0.8,0.76],[0.82,1.16],[0.84,0.45],[0.85,0.86],[0.87,1.46],[0.9,0.65],[0.35,3.88],[0.37,4.28],[0.32,4.58],[0.4,4.48],[0.45,3.98],[0.5,3.68],[0.52,4.08],[0.57,3.48],[0.3,3.38],[0.27,2.97],[0.24,2.67],[0.2,1.86],[0.15,1.46],[0.1,1.16],[0.05,1.46],[0.02,1.26],[0.5,4.28],[0.56,3.78],[0.6,3.27],[0.55,3.07],[0.45,3.48],[0.41,3.17],[0.36,2.87]];
const BR_BLACK_DENSE = [[0.02,0.1],[0.03,0.6],[0.04,1.0],[0.04,0.3],[0.05,0.8],[0.06,0.05],[0.06,1.25],[0.07,0.45],[0.08,0.95],[0.08,0.2],[0.09,0.7],[0.1,1.4],[0.1,0.35],[0.11,0.05],[0.11,0.85],[0.12,1.15],[0.13,0.5],[0.13,0.15],[0.14,0.95],[0.15,0.3],[0.15,1.7],[0.16,0.6],[0.17,1.25],[0.17,0.05],[0.18,0.8],[0.18,0.35],[0.19,1.5],[0.2,0.55],[0.2,0.1],[0.21,1.0],[0.21,2.0],[0.22,0.3],[0.23,0.75],[0.23,1.3],[0.24,0.05],[0.25,0.5],[0.25,1.65],[0.26,0.9],[0.27,0.2],[0.27,1.2],[0.28,0.6],[0.28,2.3],[0.29,0.95],[0.3,0.35],[0.3,1.5],[0.31,0.05],[0.31,0.75],[0.32,1.9],[0.33,0.45],[0.33,1.15],[0.34,0.1],[0.35,0.8],[0.35,2.6],[0.36,1.35],[0.36,0.3],[0.37,0.65],[0.38,1.75],[0.38,0.02],[0.39,1.0],[0.4,0.45],[0.4,2.2],[0.41,1.3],[0.42,0.2],[0.42,0.85],[0.43,1.6],[0.44,0.55],[0.44,2.7],[0.45,0.1],[0.46,1.05],[0.46,2.0],[0.47,0.4],[0.48,1.4],[0.48,0.75],[0.49,0.05],[0.5,1.8],[0.5,0.95],[0.51,0.3],[0.52,1.25],[0.52,2.5],[0.53,0.6],[0.54,1.6],[0.55,0.15],[0.55,0.9],[0.56,2.2],[0.57,0.45],[0.57,1.35],[0.58,0.7],[0.59,1.75],[0.6,0.25],[0.6,2.5],[0.61,0.95],[0.62,0.55],[0.62,1.5],[0.63,0.1],[0.64,1.15],[0.65,2.0],[0.65,0.35],[0.66,0.8],[0.67,1.4],[0.68,0.15],[0.69,0.7],[0.7,1.9],[0.71,0.4],[0.72,1.2],[0.73,0.95],[0.74,0.2],[0.76,0.6],[0.77,1.6],[0.79,0.35],[0.81,0.9],[0.83,0.15],[0.86,0.5],[0.88,0.8],[0.91,0.3],[0.95,0.15],[0.15,2.6],[0.18,3.1],[0.2,2.8],[0.22,3.5],[0.25,3.2],[0.26,4.0],[0.28,2.75],[0.3,3.6],[0.32,3.05],[0.33,4.3],[0.35,3.25],[0.37,2.7],[0.38,3.95],[0.4,3.4],[0.41,4.6],[0.43,2.95],[0.44,3.8],[0.46,3.3],[0.47,4.35],[0.49,2.8],[0.5,3.9],[0.52,3.35],[0.53,4.7],[0.55,2.9],[0.56,4.1],[0.58,3.5],[0.59,4.8],[0.61,3.0],[0.62,4.3],[0.64,3.6],[0.66,2.9],[0.67,4.0],[0.69,3.35],[0.71,4.5],[0.73,3.7],[0.75,3.1],[0.78,3.9],[0.81,2.8],[0.84,3.5],[0.01,0.4],[0.02,0.75],[0.03,0.2],[0.03,1.1],[0.04,0.5],[0.05,0.15],[0.05,1.3],[0.06,0.65],[0.07,0.3],[0.07,1.05],[0.08,0.55],[0.09,0.05],[0.09,1.3],[0.1,0.8],[0.1,0.2],[0.11,0.55],[0.12,1.5],[0.12,0.1],[0.13,0.75],[0.14,0.35],[0.14,1.2],[0.15,0.05],[0.15,0.8],[0.16,1.4],[0.16,0.3],[0.17,0.95],[0.18,0.6],[0.18,1.75],[0.19,0.25],[0.19,1.15],[0.2,0.8],[0.21,0.35],[0.21,1.5],[0.22,0.05],[0.22,0.9],[0.23,0.45],[0.23,1.75],[0.24,1.1],[0.25,0.25],[0.25,0.85],[0.26,1.35],[0.27,0.5],[0.27,2.0],[0.28,0.15],[0.28,1.0],[0.29,0.65],[0.29,1.7],[0.3,0.2],[0.3,1.2],[0.31,0.5],[0.32,0.95],[0.32,1.55],[0.33,0.25],[0.34,0.65],[0.34,1.8],[0.35,0.1],[0.35,1.1],[0.36,0.55],[0.37,1.5],[0.37,0.2],[0.38,0.9],[0.38,2.0],[0.39,0.45],[0.39,1.3],[0.4,0.1],[0.4,0.75],[0.41,1.65],[0.41,0.35],[0.42,1.1],[0.43,0.6],[0.43,2.1],[0.44,0.25],[0.44,0.95],[0.45,1.5],[0.46,0.55],[0.46,0.05],[0.47,1.2],[0.47,1.8],[0.48,0.25],[0.49,0.7],[0.49,1.55],[0.5,0.35],[0.5,1.2],[0.51,0.75],[0.52,0.05],[0.52,1.75],[0.53,0.95],[0.53,0.35],[0.54,1.35],[0.55,0.6],[0.56,1.05],[0.56,0.1],[0.57,1.9],[0.58,0.5],[0.58,1.2],[0.59,0.15],[0.6,0.75],[0.6,1.5],[0.61,0.4],[0.62,1.05],[0.63,0.7],[0.63,1.8],[0.64,0.3],[0.65,1.25],[0.66,0.5],[0.67,0.05],[0.68,1.1],[0.69,0.5],[0.7,1.45],[0.71,0.8],[0.73,0.4],[0.74,1.35],[0.76,0.9],[0.78,0.55],[0.8,1.2]];
const BR_BLACK_DENSE2 = [[0.005,0.2],[0.015,0.6],[0.025,0.95],[0.035,0.4],[0.045,0.15],[0.055,0.55],[0.065,0.9],[0.075,0.2],[0.085,1.15],[0.095,0.45],[0.105,0.65],[0.115,1.05],[0.125,0.3],[0.135,1.35],[0.145,0.5],[0.155,1.0],[0.165,0.15],[0.175,0.7],[0.185,1.3],[0.195,0.4],[0.205,0.95],[0.215,0.15],[0.225,1.45],[0.235,0.55],[0.245,1.2],[0.255,0.3],[0.265,0.7],[0.275,1.65],[0.285,0.4],[0.295,1.3],[0.305,0.75],[0.315,0.2],[0.325,1.1],[0.335,0.6],[0.345,1.55],[0.355,0.35],[0.365,0.95],[0.375,1.9],[0.385,0.55],[0.395,0.2],[0.405,1.2],[0.415,0.6],[0.425,1.45],[0.435,0.35],[0.445,0.75],[0.455,1.75],[0.465,0.3],[0.475,1.0],[0.485,0.55],[0.495,1.35],[0.505,0.15],[0.515,0.85],[0.525,1.55],[0.535,0.2],[0.545,1.1],[0.555,0.4],[0.565,1.6],[0.575,0.6],[0.585,0.95],[0.595,0.3],[0.605,1.3],[0.615,0.6],[0.625,0.15],[0.635,1.0],[0.645,0.5],[0.655,1.5],[0.665,0.25],[0.675,0.85],[0.685,1.3],[0.695,0.3],[0.705,0.95],[0.72,0.55],[0.735,1.1],[0.75,0.35],[0.77,0.8],[0.79,1.1],[0.82,0.6],[0.85,0.2],[0.1,2.1],[0.13,1.85],[0.17,2.3],[0.2,2.05],[0.23,2.45],[0.26,2.15],[0.29,2.6],[0.31,2.25],[0.34,2.8],[0.37,2.35],[0.39,2.05],[0.42,2.5],[0.45,2.2],[0.47,2.9],[0.5,2.3],[0.53,2.75],[0.56,2.45],[0.59,2.15],[0.61,2.7],[0.64,2.35],[0.67,2.6],[0.7,2.3],[0.73,2.5],[0.77,2.15]];
const BR_RED = [[0.05,1.91],[0.06,2.87],[0.07,5.11],[0.09,4.74],[0.1,3.98],[0.11,5.49],[0.12,3.68],[0.14,4.89],[0.14,5.54],[0.15,5.74],[0.15,3.88],[0.17,3.17],[0.17,4.48],[0.18,1.76],[0.19,3.73],[0.19,4.58],[0.2,2.82],[0.2,4.13],[0.21,3.38],[0.22,3.58],[0.22,1.86],[0.23,5.39],[0.24,4.28],[0.24,2.87],[0.25,3.88],[0.25,2.47],[0.26,3.48],[0.27,4.08],[0.27,2.27],[0.28,5.19],[0.29,3.68],[0.3,2.07],[0.3,4.48],[0.3,3.07],[0.31,7.05],[0.32,2.37],[0.32,3.88],[0.33,2.67],[0.34,3.48],[0.36,3.07],[0.37,2.37],[0.39,8.01],[0.42,2.67],[0.44,5.94],[0.46,2.67],[0.49,3.07],[0.56,7.2],[0.62,7.41],[0.71,1.96],[0.8,3.17],[0.86,2.82],[0.87,4.08],[0.67,1.36],[0.57,0.86],[0.1,0.25],[0.15,0.45],[0.2,0.25],[0.26,0.55],[0.32,0.86],[0.37,0.45],[0.42,0.65],[0.22,1.16],[0.3,1.46],[0.12,0.96],[0.35,1.66],[0.5,1.36],[0.08,1.3],[0.13,2.2],[0.16,0.8],[0.19,2.5],[0.23,0.6],[0.26,1.9],[0.29,0.3],[0.33,1.2],[0.38,0.15],[0.4,2.9],[0.45,1.6],[0.48,0.5],[0.55,2.3],[0.6,0.9],[0.65,1.9],[0.04,0.9],[0.09,0.4],[0.11,1.9],[0.14,0.6],[0.17,1.4],[0.21,0.7],[0.24,1.5],[0.27,0.35],[0.31,1.0],[0.34,2.0],[0.36,0.6],[0.4,1.4],[0.43,0.3],[0.47,0.8],[0.52,1.5],[0.58,0.35],[0.62,2.2]];

// ---------- names ----------
const N_PINK = "Density of Infalling Halos at First Periapsis or Merger";
const N_GREEN = "Density of Infalling Halos at Infall";
const N_PURPLE = "Density of Infalling Halos at r/r_vir=1.5";
const N_ORANGE = "Density of Non-Infalling Halos at z=0";
const N_GREY = "Density of Main Halo Particles at z=0";
const DENS_NAMES = [N_PINK, N_GREEN, N_PURPLE, N_ORANGE, N_GREY];
const TL_NAMES = ["Survives to End, n = 339", "Merged, n = 763", "Excluded, n = 8"];
const BL_NAMES = ["Survives to End, n = 247", "Merged, n = 1021", "Excluded, n = 191"];
const TL_HIST_NAME = "Histogram, n = 1102";
const BL_HIST_NAME = "Histogram, n = 1268";

const C_BLUE = "#0000ff", C_BLACK = "#000000", C_RED = "#ff0000";
const SCAT_COLORS = [C_BLUE, C_BLACK, C_RED];
const C_PINK = "#ffc0cb", C_GREEN = "#008000", C_PURPLE = "#800080", C_ORANGE = "#ffa500", C_GREY = "rgba(128,128,128,0.5)";

const zipJ = (ys: number[]) => ys.map((y, i) => [J_BINS[i], y]);

// ---------- layout ----------
const PW = 1303, PH = 1259;
const PANELS = [
  { left: 114, top: 63 },
  { left: 1678, top: 63 },
  { left: 114, top: 1574 },
  { left: 1678, top: 1574 },
];

const tick = (vals: number[], len = 9.7, w = 2.2) => ({ show: true, length: len, customValues: vals, lineStyle: { color: "#000", width: w } });
const baseLabel = { color: "#000", fontSize: FS, fontFamily: FONT };
const nameStyleX = {
  color: "#000", fontSize: FS, fontFamily: FONT, lineHeight: 36,
  rich: {
    sub: { fontSize: 19, fontFamily: FONT, color: "#000", lineHeight: 16, verticalAlign: "bottom" },
    sup: { fontSize: 19, fontFamily: FONT, color: "#000", lineHeight: 20, verticalAlign: "top" },
  },
};
const nameStyleY = { color: "#000", fontSize: FS, fontFamily: FONT, lineHeight: 32 };

function logXAxes(grid: number) {
  return [
    {
      type: "value", gridIndex: grid, min: 7, max: LOG_MAX, position: "bottom",
      axisLine: { show: false }, splitLine: { show: false },
      axisTick: tick(LOG_TICKS),
      axisLabel: {
        ...baseLabel, customValues: LOG_TICKS, margin: 15, lineHeight: 36,
        formatter: (v: number) => `{b|10}{s|${Math.round(v)}}`,
        rich: {
          b: { fontSize: FS, fontFamily: FONT, color: "#000", lineHeight: 36, verticalAlign: "bottom" },
          s: { fontSize: 19, fontFamily: FONT, color: "#000", lineHeight: 22, verticalAlign: "top" },
        },
      },
      name: "Peak Mass Outside of Main Halo [M{sub|⊙}]", nameLocation: "middle", nameGap: 56, nameTextStyle: nameStyleX,
    },
    {
      type: "value", gridIndex: grid, min: 7, max: LOG_MAX, position: "bottom",
      axisLine: { show: false }, splitLine: { show: false }, axisLabel: { show: false },
      axisTick: tick(LOG_MINOR, 5.6, 1.7),
    },
  ];
}
function jXAxis(grid: number) {
  return {
    type: "value", gridIndex: grid, min: 0, max: J_MAX, position: "bottom",
    axisLine: { show: false }, splitLine: { show: false },
    axisTick: tick(J_TICKS),
    axisLabel: { ...baseLabel, customValues: J_TICKS, margin: 15, lineHeight: 36, formatter: (v: number) => v.toFixed(1) },
    name: "Specific Angular Momentum at First Infall [10{sup|−5} Box Size{sup|2}/Gyr]", nameLocation: "middle", nameGap: 56, nameTextStyle: nameStyleX,
  };
}
function survYAxis(grid: number) {
  return {
    type: "value", gridIndex: grid, min: 0, max: SURV_MAX, position: "left",
    axisLine: { show: false }, splitLine: { show: false },
    axisTick: tick(SURV_TICKS),
    axisLabel: { ...baseLabel, customValues: SURV_TICKS, margin: 20 },
    name: "Survival Time After Infall [Gyr]", nameLocation: "middle", nameGap: 67, nameTextStyle: nameStyleY,
  };
}
function countYAxis(grid: number) {
  return {
    type: "value", gridIndex: grid, min: 0, max: 200, position: "right",
    axisLine: { show: false }, splitLine: { show: false },
    axisTick: tick(COUNT_TICKS),
    axisLabel: { ...baseLabel, customValues: COUNT_TICKS, margin: 20 },
    name: "Number of Halos", nameLocation: "middle", nameGap: 84, nameTextStyle: nameStyleY,
  };
}
function densYAxis(grid: number) {
  return {
    type: "value", gridIndex: grid, min: 0, max: 3, position: "right",
    axisLine: { show: false }, splitLine: { show: false },
    axisTick: tick(DENS_TICKS),
    axisLabel: { ...baseLabel, customValues: DENS_TICKS, margin: 20, formatter: (v: number) => v.toFixed(1) },
    name: "Density", nameLocation: "middle", nameGap: 76, nameTextStyle: nameStyleY,
  };
}

function scat(name: string, data: number[][], color: string, xi: number, yi: number) {
  return {
    type: "scatter", name, data, xAxisIndex: xi, yAxisIndex: yi, symbol: "circle", symbolSize: DOT,
    itemStyle: { color, opacity: 1, borderWidth: 0 }, silent: true, z: 2, clip: true, animation: false,
  };
}
function line(name: string, data: number[][], color: string, width: number, xi: number, yi: number, z: number) {
  return {
    type: "line", name, data, xAxisIndex: xi, yAxisIndex: yi, symbol: "none", showSymbol: false, color,
    lineStyle: { color, width, cap: "square", join: "round" }, itemStyle: { color },
    silent: true, z, clip: true, animation: false,
  };
}

function densSeries(xi: number, yi: number, pink: number[], green: number[], purple: number[], orange: number[], grey: number[][]) {
  return [
    line(N_GREY, grey, C_GREY, 16.7, xi, yi, 3),
    line(N_PINK, zipJ(pink), C_PINK, 11.1, xi, yi, 4),
    line(N_GREEN, zipJ(green), C_GREEN, 11.1, xi, yi, 5),
    line(N_PURPLE, zipJ(purple), C_PURPLE, 11.1, xi, yi, 6),
    line(N_ORANGE, zipJ(orange), C_ORANGE, 11.1, xi, yi, 7),
  ];
}

const legendBase = {
  orient: "vertical", selectedMode: false, padding: [8, 12, 11, 5], itemGap: 10.5, itemWidth: 68,
  backgroundColor: "rgba(255,255,255,0.8)", borderColor: "#cccccc", borderWidth: 2, borderRadius: 8,
  itemStyle: { borderWidth: 0 },
  textStyle: {
    color: "#000", fontSize: FS, fontFamily: FONT, lineHeight: 32, padding: [0, 0, 0, 12],
    rich: { sub: { fontSize: 19, fontFamily: FONT, fontStyle: "italic", color: "#000", lineHeight: 14, verticalAlign: "bottom" } },
  },
  formatter: (name: string) => (name === N_PURPLE ? "Density of Infalling Halos at r/r{sub|vir}=1.5" : name),
  z: 10,
};

// scatter legend box drawn as graphic elements (matplotlib-like layout)
function scatterLegend(top: number, names: string[]) {
  const rows = [top + 26, top + 68, top + 110];
  const els: any[] = [
    {
      type: "rect", z: 100, silent: true,
      shape: { x: 128, y: top, width: 447, height: 134, r: 8 },
      style: { fill: "rgba(255,255,255,0.8)", stroke: "#cccccc", lineWidth: 2 },
    },
  ];
  names.forEach((n, i) => {
    els.push({ type: "circle", z: 101, silent: true, shape: { cx: 167, cy: rows[i], r: DOT / 2 }, style: { fill: SCAT_COLORS[i] } });
    els.push({
      type: "text", z: 101, silent: true, x: 218, y: rows[i],
      style: { text: n, fontSize: FS, fontFamily: FONT, fill: "#000", align: "left", verticalAlign: "middle", textAlign: "left", textVerticalAlign: "middle" },
    });
  });
  return els;
}

function buildOption() {
  const grid = PANELS.map((p) => ({
    ...p, width: PW, height: PH, show: true, borderColor: "#000", borderWidth: 2.2,
    backgroundColor: "transparent", containLabel: false, outerBoundsMode: "none",
  }));
  // xAxis indices: 0 TL major, 1 TL minor, 2 TR, 3 BL major, 4 BL minor, 5 BR
  const xAxis = [...logXAxes(0), jXAxis(1), ...logXAxes(2), jXAxis(3)];
  // yAxis indices: 0 TL left, 1 TL right, 2 TR left, 3 TR right, 4 BL left, 5 BL right, 6 BR left, 7 BR right
  const yAxis = [survYAxis(0), countYAxis(0), survYAxis(1), densYAxis(1), survYAxis(2), countYAxis(2), survYAxis(3), densYAxis(3)];

  const series = [
    scat(TL_NAMES[0], TL_BLUE, C_BLUE, 0, 0),
    scat(TL_NAMES[1], TL_BLACK.concat(TL_BLACK_DENSE), C_BLACK, 0, 0),
    scat(TL_NAMES[2], TL_RED, C_RED, 0, 0),
    line(TL_HIST_NAME, TL_HIST, C_GREEN, 11.1, 0, 1, 3),

    scat("TR survives", TR_BLUE, C_BLUE, 2, 2),
    scat("TR merged", TR_BLACK.concat(TR_BLACK_DENSE), C_BLACK, 2, 2),
    scat("TR excluded", TR_RED, C_RED, 2, 2),
    ...densSeries(2, 3, TR_PINK, TR_GREEN, TR_PURPLE, TR_ORANGE, TR_GREY),

    scat(BL_NAMES[0], BL_BLUE, C_BLUE, 3, 4),
    scat(BL_NAMES[1], BL_BLACK.concat(BL_BLACK_DENSE, BL_BLACK_DENSE2), C_BLACK, 3, 4),
    scat(BL_NAMES[2], BL_RED, C_RED, 3, 4),
    line(BL_HIST_NAME, BL_HIST, C_GREEN, 11.1, 3, 5, 3),

    scat("BR survives", BR_BLUE, C_BLUE, 5, 6),
    scat("BR merged", BR_BLACK.concat(BR_BLACK_DENSE, BR_BLACK_DENSE2), C_BLACK, 5, 6),
    scat("BR excluded", BR_RED, C_RED, 5, 6),
    ...densSeries(5, 7, BR_PINK, BR_GREEN, BR_PURPLE, BR_ORANGE, BR_GREY),
  ];

  const legend = [
    { ...legendBase, right: W - 1403, top: 76, icon: "rect", itemHeight: 11.1, data: [TL_HIST_NAME] },
    { ...legendBase, right: W - 2967, top: 76, icon: "rect", itemHeight: 11.1, data: DENS_NAMES },
    { ...legendBase, right: W - 1403, top: 1587, icon: "rect", itemHeight: 11.1, data: [BL_HIST_NAME] },
    { ...legendBase, right: W - 2967, top: 1587, icon: "rect", itemHeight: 11.1, data: DENS_NAMES },
  ];

  const titleStyle = (text: string) => ({
    text, fontSize: 33.3, fontFamily: FONT, fill: "#000",
    align: "center", verticalAlign: "middle", textAlign: "center", textVerticalAlign: "middle",
  });
  const graphic = [
    { type: "text", x: 114 + PW / 2, y: 36, silent: true, style: titleStyle("This Work") },
    { type: "text", x: 114 + PW / 2, y: 1547, silent: true, style: titleStyle("RCT") },
    ...scatterLegend(76, TL_NAMES),
    ...scatterLegend(1587, BL_NAMES),
  ];

  return {
    animation: false,
    backgroundColor: "#ffffff",
    textStyle: { fontFamily: FONT },
    tooltip: { show: false },
    grid, xAxis, yAxis, series, legend, graphic,
  };
}

export default function App() {
  const ref = useRef<HTMLDivElement>(null);
  useEffect(() => {
    if (!ref.current) return;
    const chart = echarts.init(ref.current, null, { renderer: "svg", width: W, height: H });
    chart.setOption(buildOption() as any);
    return () => chart.dispose();
  }, []);
  return <div ref={ref} style={{ position: "absolute", left: 0, top: 0, width: W, height: H, background: "#fff" }} />;
}
